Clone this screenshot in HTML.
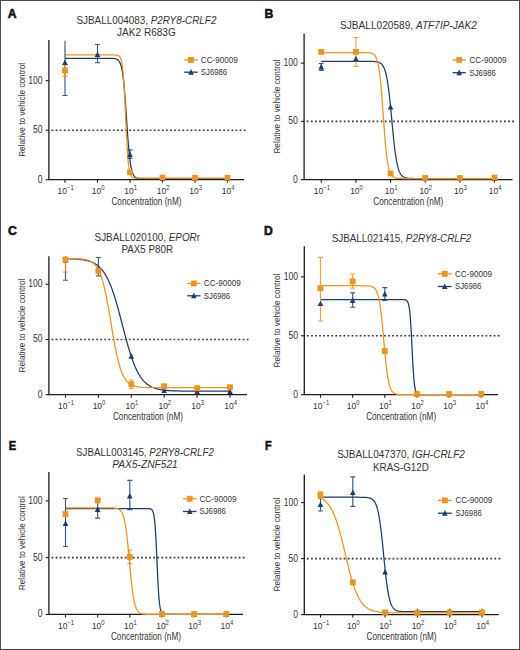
<!DOCTYPE html>
<html><head><meta charset="utf-8"><style>
html,body{margin:0;padding:0;background:#fff;}
svg{display:block;font-family:"Liberation Sans", sans-serif;}
</style></head><body>
<svg width="520" height="650" viewBox="0 0 520 650">
<rect x="0" y="0" width="520" height="650" fill="#fff"/>
<rect x="0.5" y="0.5" width="519" height="649" fill="none" stroke="#4a4a4a" stroke-width="1"/>
<g><text x="7.8" y="17.5" font-size="12.2" font-weight="bold" fill="#111" stroke="#111" stroke-width="0.55">A</text>
<text x="146.4" y="23.8" font-size="11" fill="#333" text-anchor="middle" textLength="140" lengthAdjust="spacingAndGlyphs"><tspan>SJBALL004083, </tspan><tspan font-style="italic">P2RY8-CRLF2</tspan></text>
<text x="146.4" y="36.1" font-size="11" fill="#333" text-anchor="middle" textLength="58.6" lengthAdjust="spacingAndGlyphs"><tspan>JAK2 R683G</tspan></text>
<path d="M48.9,40 V179.7 H244" stroke="#1c1c1c" stroke-width="1.3" fill="none"/>
<line x1="45.6" y1="179.7" x2="48.9" y2="179.7" stroke="#1c1c1c" stroke-width="1.1"/>
<text x="42.6" y="182.7" font-size="10" fill="#333" text-anchor="end" transform="translate(42.6,0) scale(0.86,1) translate(-42.6,0)">0</text>
<line x1="45.6" y1="130.2" x2="48.9" y2="130.2" stroke="#1c1c1c" stroke-width="1.1"/>
<text x="42.6" y="133.2" font-size="10" fill="#333" text-anchor="end" transform="translate(42.6,0) scale(0.86,1) translate(-42.6,0)">50</text>
<line x1="45.6" y1="80.7" x2="48.9" y2="80.7" stroke="#1c1c1c" stroke-width="1.1"/>
<text x="42.6" y="83.7" font-size="10" fill="#333" text-anchor="end" transform="translate(42.6,0) scale(0.86,1) translate(-42.6,0)">100</text>
<line x1="65" y1="179.7" x2="65" y2="182.7" stroke="#1c1c1c" stroke-width="1.1"/>
<text x="65.6" y="194.3" font-size="9.4" fill="#333" text-anchor="middle" transform="translate(65.6,0) scale(0.9,1) translate(-65.6,0)">10<tspan font-size="6.6" dy="-3.9">−1</tspan></text>
<line x1="97.5" y1="179.7" x2="97.5" y2="182.7" stroke="#1c1c1c" stroke-width="1.1"/>
<text x="98.1" y="194.3" font-size="9.4" fill="#333" text-anchor="middle" transform="translate(98.1,0) scale(0.9,1) translate(-98.1,0)">10<tspan font-size="6.6" dy="-3.9">0</tspan></text>
<line x1="130" y1="179.7" x2="130" y2="182.7" stroke="#1c1c1c" stroke-width="1.1"/>
<text x="130.6" y="194.3" font-size="9.4" fill="#333" text-anchor="middle" transform="translate(130.6,0) scale(0.9,1) translate(-130.6,0)">10<tspan font-size="6.6" dy="-3.9">1</tspan></text>
<line x1="162.5" y1="179.7" x2="162.5" y2="182.7" stroke="#1c1c1c" stroke-width="1.1"/>
<text x="163.1" y="194.3" font-size="9.4" fill="#333" text-anchor="middle" transform="translate(163.1,0) scale(0.9,1) translate(-163.1,0)">10<tspan font-size="6.6" dy="-3.9">2</tspan></text>
<line x1="195" y1="179.7" x2="195" y2="182.7" stroke="#1c1c1c" stroke-width="1.1"/>
<text x="195.6" y="194.3" font-size="9.4" fill="#333" text-anchor="middle" transform="translate(195.6,0) scale(0.9,1) translate(-195.6,0)">10<tspan font-size="6.6" dy="-3.9">3</tspan></text>
<line x1="227.5" y1="179.7" x2="227.5" y2="182.7" stroke="#1c1c1c" stroke-width="1.1"/>
<text x="228.1" y="194.3" font-size="9.4" fill="#333" text-anchor="middle" transform="translate(228.1,0) scale(0.9,1) translate(-228.1,0)">10<tspan font-size="6.6" dy="-3.9">4</tspan></text>
<text x="146.45" y="205.3" font-size="10.4" fill="#333" text-anchor="middle" textLength="70" lengthAdjust="spacingAndGlyphs">Concentration (nM)</text>
<text x="0" y="0" transform="translate(24.5,109.85) rotate(-90)" font-size="9.7" fill="#333" text-anchor="middle" textLength="94" lengthAdjust="spacingAndGlyphs">Relative to vehicle control</text>
<path d="M51.55,130.2 h1.8 M55.64,130.2 h1.8 M59.73,130.2 h1.8 M63.81,130.2 h1.8 M67.9,130.2 h1.8 M71.99,130.2 h1.8 M76.08,130.2 h1.8 M80.17,130.2 h1.8 M84.26,130.2 h1.8 M88.34,130.2 h1.8 M92.43,130.2 h1.8 M96.52,130.2 h1.8 M100.61,130.2 h1.8 M104.7,130.2 h1.8 M108.79,130.2 h1.8 M112.87,130.2 h1.8 M116.96,130.2 h1.8 M121.05,130.2 h1.8 M125.14,130.2 h1.8 M129.23,130.2 h1.8 M133.32,130.2 h1.8 M137.4,130.2 h1.8 M141.49,130.2 h1.8 M145.58,130.2 h1.8 M149.67,130.2 h1.8 M153.76,130.2 h1.8 M157.85,130.2 h1.8 M161.93,130.2 h1.8 M166.02,130.2 h1.8 M170.11,130.2 h1.8 M174.2,130.2 h1.8 M178.29,130.2 h1.8 M182.38,130.2 h1.8 M186.46,130.2 h1.8 M190.55,130.2 h1.8 M194.64,130.2 h1.8 M198.73,130.2 h1.8 M202.82,130.2 h1.8 M206.91,130.2 h1.8 M210.99,130.2 h1.8 M215.08,130.2 h1.8 M219.17,130.2 h1.8 M223.26,130.2 h1.8 M227.35,130.2 h1.8 M231.44,130.2 h1.8 M235.52,130.2 h1.8 M239.61,130.2 h1.8 M243.7,130.2 h1.8" stroke="#3a3a3a" stroke-width="1.6" fill="none"/>
<path d="M65,58.33 L65.33,58.33 L65.65,58.33 L65.97,58.33 L66.3,58.33 L66.62,58.33 L66.95,58.33 L67.28,58.33 L67.6,58.33 L67.92,58.33 L68.25,58.33 L68.58,58.33 L68.9,58.33 L69.22,58.33 L69.55,58.33 L69.88,58.33 L70.2,58.33 L70.53,58.33 L70.85,58.33 L71.17,58.33 L71.5,58.33 L71.83,58.33 L72.15,58.33 L72.47,58.33 L72.8,58.33 L73.12,58.33 L73.45,58.33 L73.78,58.33 L74.1,58.33 L74.42,58.33 L74.75,58.33 L75.08,58.33 L75.4,58.33 L75.72,58.33 L76.05,58.33 L76.38,58.33 L76.7,58.33 L77.03,58.33 L77.35,58.33 L77.67,58.33 L78,58.33 L78.33,58.33 L78.65,58.33 L78.97,58.33 L79.3,58.33 L79.62,58.33 L79.95,58.33 L80.28,58.33 L80.6,58.33 L80.92,58.33 L81.25,58.33 L81.58,58.33 L81.9,58.33 L82.22,58.33 L82.55,58.33 L82.88,58.33 L83.2,58.33 L83.53,58.33 L83.85,58.33 L84.17,58.33 L84.5,58.33 L84.83,58.33 L85.15,58.33 L85.47,58.33 L85.8,58.33 L86.12,58.33 L86.45,58.33 L86.78,58.33 L87.1,58.33 L87.42,58.33 L87.75,58.33 L88.08,58.33 L88.4,58.33 L88.72,58.33 L89.05,58.33 L89.38,58.33 L89.7,58.33 L90.03,58.33 L90.35,58.33 L90.67,58.33 L91,58.33 L91.33,58.33 L91.65,58.33 L91.97,58.33 L92.3,58.33 L92.62,58.33 L92.95,58.33 L93.28,58.33 L93.6,58.33 L93.92,58.33 L94.25,58.33 L94.58,58.33 L94.9,58.33 L95.22,58.33 L95.55,58.33 L95.88,58.33 L96.2,58.33 L96.53,58.33 L96.85,58.33 L97.17,58.33 L97.5,58.33 L97.83,58.33 L98.15,58.33 L98.47,58.33 L98.8,58.33 L99.12,58.33 L99.45,58.33 L99.78,58.33 L100.1,58.33 L100.43,58.33 L100.75,58.33 L101.08,58.33 L101.4,58.33 L101.72,58.33 L102.05,58.33 L102.38,58.33 L102.7,58.33 L103.03,58.33 L103.35,58.33 L103.67,58.33 L104,58.33 L104.32,58.33 L104.65,58.33 L104.97,58.33 L105.3,58.33 L105.62,58.33 L105.95,58.33 L106.28,58.33 L106.6,58.33 L106.93,58.33 L107.25,58.33 L107.58,58.34 L107.9,58.34 L108.22,58.34 L108.55,58.34 L108.88,58.35 L109.2,58.35 L109.53,58.35 L109.85,58.36 L110.17,58.36 L110.5,58.37 L110.82,58.38 L111.15,58.38 L111.47,58.4 L111.8,58.41 L112.12,58.42 L112.45,58.44 L112.78,58.46 L113.1,58.48 L113.42,58.51 L113.75,58.54 L114.08,58.58 L114.4,58.62 L114.72,58.67 L115.05,58.73 L115.38,58.8 L115.7,58.89 L116.03,58.98 L116.35,59.1 L116.68,59.23 L117,59.39 L117.33,59.57 L117.65,59.79 L117.97,60.04 L118.3,60.33 L118.62,60.68 L118.95,61.08 L119.28,61.55 L119.6,62.09 L119.92,62.73 L120.25,63.46 L120.57,64.32 L120.9,65.3 L121.22,66.44 L121.55,67.75 L121.88,69.25 L122.2,70.96 L122.53,72.9 L122.85,75.09 L123.18,77.56 L123.5,80.31 L123.83,83.35 L124.15,86.7 L124.47,90.34 L124.8,94.27 L125.12,98.46 L125.45,102.88 L125.78,107.49 L126.1,112.23 L126.42,117.06 L126.75,121.91 L127.07,126.71 L127.4,131.41 L127.72,135.95 L128.05,140.29 L128.38,144.37 L128.7,148.19 L129.03,151.71 L129.35,154.94 L129.68,157.87 L130,160.5 L130.32,162.85 L130.65,164.94 L130.97,166.79 L131.3,168.41 L131.62,169.83 L131.95,171.07 L132.27,172.15 L132.6,173.08 L132.93,173.88 L133.25,174.58 L133.57,175.17 L133.9,175.69 L134.22,176.13 L134.55,176.5 L134.88,176.83 L135.2,177.1 L135.52,177.34 L135.85,177.54 L136.18,177.71 L136.5,177.86 L136.82,177.99 L137.15,178.09 L137.47,178.19 L137.8,178.26 L138.12,178.33 L138.45,178.39 L138.78,178.43 L139.1,178.48 L139.43,178.51 L139.75,178.54 L140.07,178.57 L140.4,178.59 L140.73,178.6 L141.05,178.62 L141.38,178.63 L141.7,178.65 L142.03,178.65 L142.35,178.66 L142.68,178.67 L143,178.68 L143.32,178.68 L143.65,178.69 L143.98,178.69 L144.3,178.69 L144.62,178.69 L144.95,178.7 L145.28,178.7 L145.6,178.7 L145.93,178.7 L146.25,178.7 L146.57,178.7 L146.9,178.71 L147.22,178.71 L147.55,178.71 L147.88,178.71 L148.2,178.71 L148.52,178.71 L148.85,178.71 L149.18,178.71 L149.5,178.71 L149.82,178.71 L150.15,178.71 L150.47,178.71 L150.8,178.71 L151.12,178.71 L151.45,178.71 L151.77,178.71 L152.1,178.71 L152.43,178.71 L152.75,178.71 L153.07,178.71 L153.4,178.71 L153.72,178.71 L154.05,178.71 L154.38,178.71 L154.7,178.71 L155.03,178.71 L155.35,178.71 L155.68,178.71 L156,178.71 L156.32,178.71 L156.65,178.71 L156.98,178.71 L157.3,178.71 L157.62,178.71 L157.95,178.71 L158.28,178.71 L158.6,178.71 L158.93,178.71 L159.25,178.71 L159.57,178.71 L159.9,178.71 L160.23,178.71 L160.55,178.71 L160.88,178.71 L161.2,178.71 L161.53,178.71 L161.85,178.71 L162.18,178.71 L162.5,178.71 L162.82,178.71 L163.15,178.71 L163.47,178.71 L163.8,178.71 L164.12,178.71 L164.45,178.71 L164.77,178.71 L165.1,178.71 L165.43,178.71 L165.75,178.71 L166.07,178.71 L166.4,178.71 L166.72,178.71 L167.05,178.71 L167.38,178.71 L167.7,178.71 L168.02,178.71 L168.35,178.71 L168.68,178.71 L169,178.71 L169.32,178.71 L169.65,178.71 L169.97,178.71 L170.3,178.71 L170.62,178.71 L170.95,178.71 L171.28,178.71 L171.6,178.71 L171.93,178.71 L172.25,178.71 L172.57,178.71 L172.9,178.71 L173.23,178.71 L173.55,178.71 L173.88,178.71 L174.2,178.71 L174.53,178.71 L174.85,178.71 L175.18,178.71 L175.5,178.71 L175.82,178.71 L176.15,178.71 L176.48,178.71 L176.8,178.71 L177.12,178.71 L177.45,178.71 L177.78,178.71 L178.1,178.71 L178.43,178.71 L178.75,178.71 L179.07,178.71 L179.4,178.71 L179.72,178.71 L180.05,178.71 L180.38,178.71 L180.7,178.71 L181.02,178.71 L181.35,178.71 L181.68,178.71 L182,178.71 L182.32,178.71 L182.65,178.71 L182.97,178.71 L183.3,178.71 L183.62,178.71 L183.95,178.71 L184.27,178.71 L184.6,178.71 L184.93,178.71 L185.25,178.71 L185.57,178.71 L185.9,178.71 L186.22,178.71 L186.55,178.71 L186.88,178.71 L187.2,178.71 L187.53,178.71 L187.85,178.71 L188.18,178.71 L188.5,178.71 L188.82,178.71 L189.15,178.71 L189.48,178.71 L189.8,178.71 L190.12,178.71 L190.45,178.71 L190.78,178.71 L191.1,178.71 L191.43,178.71 L191.75,178.71 L192.07,178.71 L192.4,178.71 L192.73,178.71 L193.05,178.71 L193.38,178.71 L193.7,178.71 L194.03,178.71 L194.35,178.71 L194.68,178.71 L195,178.71 L195.32,178.71 L195.65,178.71 L195.97,178.71 L196.3,178.71 L196.62,178.71 L196.95,178.71 L197.28,178.71 L197.6,178.71 L197.92,178.71 L198.25,178.71 L198.58,178.71 L198.9,178.71 L199.22,178.71 L199.55,178.71 L199.88,178.71 L200.2,178.71 L200.53,178.71 L200.85,178.71 L201.18,178.71 L201.5,178.71 L201.82,178.71 L202.15,178.71 L202.48,178.71 L202.8,178.71 L203.12,178.71 L203.45,178.71 L203.77,178.71 L204.1,178.71 L204.43,178.71 L204.75,178.71 L205.07,178.71 L205.4,178.71 L205.72,178.71 L206.05,178.71 L206.38,178.71 L206.7,178.71 L207.03,178.71 L207.35,178.71 L207.67,178.71 L208,178.71 L208.33,178.71 L208.65,178.71 L208.97,178.71 L209.3,178.71 L209.62,178.71 L209.95,178.71 L210.28,178.71 L210.6,178.71 L210.93,178.71 L211.25,178.71 L211.57,178.71 L211.9,178.71 L212.22,178.71 L212.55,178.71 L212.88,178.71 L213.2,178.71 L213.53,178.71 L213.85,178.71 L214.17,178.71 L214.5,178.71 L214.83,178.71 L215.15,178.71 L215.47,178.71 L215.8,178.71 L216.12,178.71 L216.45,178.71 L216.78,178.71 L217.1,178.71 L217.43,178.71 L217.75,178.71 L218.07,178.71 L218.4,178.71 L218.73,178.71 L219.05,178.71 L219.38,178.71 L219.7,178.71 L220.02,178.71 L220.35,178.71 L220.68,178.71 L221,178.71 L221.32,178.71 L221.65,178.71 L221.97,178.71 L222.3,178.71 L222.62,178.71 L222.95,178.71 L223.28,178.71 L223.6,178.71 L223.92,178.71 L224.25,178.71 L224.58,178.71 L224.9,178.71 L225.22,178.71 L225.55,178.71 L225.88,178.71 L226.2,178.71 L226.53,178.71 L226.85,178.71 L227.18,178.71 L227.5,178.71" stroke="#1B3D6B" stroke-width="1.25" fill="none"/>
<path d="M65,54.96 L65.33,54.96 L65.65,54.96 L65.97,54.96 L66.3,54.96 L66.62,54.96 L66.95,54.96 L67.28,54.96 L67.6,54.96 L67.92,54.96 L68.25,54.96 L68.58,54.96 L68.9,54.96 L69.22,54.96 L69.55,54.96 L69.88,54.96 L70.2,54.96 L70.53,54.96 L70.85,54.96 L71.17,54.96 L71.5,54.96 L71.83,54.96 L72.15,54.96 L72.47,54.96 L72.8,54.96 L73.12,54.96 L73.45,54.96 L73.78,54.96 L74.1,54.96 L74.42,54.96 L74.75,54.96 L75.08,54.96 L75.4,54.96 L75.72,54.96 L76.05,54.96 L76.38,54.96 L76.7,54.96 L77.03,54.96 L77.35,54.96 L77.67,54.96 L78,54.96 L78.33,54.96 L78.65,54.96 L78.97,54.96 L79.3,54.96 L79.62,54.96 L79.95,54.96 L80.28,54.96 L80.6,54.96 L80.92,54.96 L81.25,54.96 L81.58,54.96 L81.9,54.96 L82.22,54.96 L82.55,54.96 L82.88,54.96 L83.2,54.96 L83.53,54.96 L83.85,54.96 L84.17,54.96 L84.5,54.96 L84.83,54.96 L85.15,54.96 L85.47,54.96 L85.8,54.96 L86.12,54.96 L86.45,54.96 L86.78,54.96 L87.1,54.96 L87.42,54.96 L87.75,54.96 L88.08,54.96 L88.4,54.96 L88.72,54.96 L89.05,54.96 L89.38,54.96 L89.7,54.96 L90.03,54.96 L90.35,54.96 L90.67,54.96 L91,54.96 L91.33,54.96 L91.65,54.96 L91.97,54.96 L92.3,54.96 L92.62,54.96 L92.95,54.96 L93.28,54.96 L93.6,54.96 L93.92,54.96 L94.25,54.96 L94.58,54.96 L94.9,54.96 L95.22,54.96 L95.55,54.96 L95.88,54.96 L96.2,54.96 L96.53,54.96 L96.85,54.96 L97.17,54.96 L97.5,54.96 L97.83,54.96 L98.15,54.96 L98.47,54.96 L98.8,54.96 L99.12,54.96 L99.45,54.96 L99.78,54.96 L100.1,54.96 L100.43,54.96 L100.75,54.96 L101.08,54.96 L101.4,54.96 L101.72,54.96 L102.05,54.96 L102.38,54.96 L102.7,54.96 L103.03,54.96 L103.35,54.96 L103.67,54.96 L104,54.96 L104.32,54.96 L104.65,54.96 L104.97,54.96 L105.3,54.96 L105.62,54.96 L105.95,54.96 L106.28,54.96 L106.6,54.96 L106.93,54.96 L107.25,54.96 L107.58,54.96 L107.9,54.96 L108.22,54.96 L108.55,54.96 L108.88,54.96 L109.2,54.96 L109.53,54.96 L109.85,54.96 L110.17,54.96 L110.5,54.96 L110.82,54.96 L111.15,54.96 L111.47,54.97 L111.8,54.97 L112.12,54.97 L112.45,54.97 L112.78,54.97 L113.1,54.98 L113.42,54.98 L113.75,54.99 L114.08,54.99 L114.4,55 L114.72,55.02 L115.05,55.03 L115.38,55.05 L115.7,55.07 L116.03,55.1 L116.35,55.13 L116.68,55.18 L117,55.24 L117.33,55.31 L117.65,55.4 L117.97,55.51 L118.3,55.65 L118.62,55.83 L118.95,56.05 L119.28,56.33 L119.6,56.68 L119.92,57.11 L120.25,57.66 L120.57,58.34 L120.9,59.18 L121.22,60.23 L121.55,61.52 L121.88,63.11 L122.2,65.05 L122.53,67.39 L122.85,70.22 L123.18,73.57 L123.5,77.51 L123.83,82.06 L124.15,87.24 L124.47,93.02 L124.8,99.32 L125.12,106.05 L125.45,113.04 L125.78,120.13 L126.1,127.13 L126.42,133.85 L126.75,140.16 L127.07,145.94 L127.4,151.11 L127.72,155.67 L128.05,159.61 L128.38,162.96 L128.7,165.78 L129.03,168.13 L129.35,170.07 L129.68,171.65 L130,172.94 L130.32,173.99 L130.65,174.84 L130.97,175.52 L131.3,176.06 L131.62,176.5 L131.95,176.85 L132.27,177.13 L132.6,177.35 L132.93,177.53 L133.25,177.67 L133.57,177.78 L133.9,177.87 L134.22,177.94 L134.55,178 L134.88,178.04 L135.2,178.08 L135.52,178.11 L135.85,178.13 L136.18,178.15 L136.5,178.16 L136.82,178.17 L137.15,178.18 L137.47,178.19 L137.8,178.19 L138.12,178.2 L138.45,178.2 L138.78,178.2 L139.1,178.21 L139.43,178.21 L139.75,178.21 L140.07,178.21 L140.4,178.21 L140.73,178.21 L141.05,178.21 L141.38,178.21 L141.7,178.21 L142.03,178.21 L142.35,178.21 L142.68,178.21 L143,178.21 L143.32,178.21 L143.65,178.21 L143.98,178.21 L144.3,178.21 L144.62,178.21 L144.95,178.21 L145.28,178.21 L145.6,178.21 L145.93,178.21 L146.25,178.21 L146.57,178.21 L146.9,178.21 L147.22,178.21 L147.55,178.21 L147.88,178.21 L148.2,178.21 L148.52,178.21 L148.85,178.21 L149.18,178.21 L149.5,178.21 L149.82,178.21 L150.15,178.21 L150.47,178.21 L150.8,178.21 L151.12,178.21 L151.45,178.21 L151.77,178.21 L152.1,178.21 L152.43,178.21 L152.75,178.21 L153.07,178.21 L153.4,178.21 L153.72,178.21 L154.05,178.21 L154.38,178.21 L154.7,178.21 L155.03,178.21 L155.35,178.21 L155.68,178.21 L156,178.21 L156.32,178.21 L156.65,178.21 L156.98,178.21 L157.3,178.21 L157.62,178.21 L157.95,178.21 L158.28,178.21 L158.6,178.21 L158.93,178.21 L159.25,178.21 L159.57,178.21 L159.9,178.21 L160.23,178.21 L160.55,178.21 L160.88,178.21 L161.2,178.21 L161.53,178.21 L161.85,178.21 L162.18,178.21 L162.5,178.21 L162.82,178.21 L163.15,178.21 L163.47,178.21 L163.8,178.21 L164.12,178.21 L164.45,178.21 L164.77,178.21 L165.1,178.21 L165.43,178.21 L165.75,178.21 L166.07,178.21 L166.4,178.21 L166.72,178.21 L167.05,178.21 L167.38,178.21 L167.7,178.21 L168.02,178.21 L168.35,178.21 L168.68,178.21 L169,178.21 L169.32,178.21 L169.65,178.21 L169.97,178.21 L170.3,178.21 L170.62,178.21 L170.95,178.21 L171.28,178.21 L171.6,178.21 L171.93,178.21 L172.25,178.21 L172.57,178.21 L172.9,178.21 L173.23,178.21 L173.55,178.21 L173.88,178.21 L174.2,178.21 L174.53,178.21 L174.85,178.21 L175.18,178.21 L175.5,178.21 L175.82,178.21 L176.15,178.21 L176.48,178.21 L176.8,178.21 L177.12,178.21 L177.45,178.21 L177.78,178.21 L178.1,178.21 L178.43,178.21 L178.75,178.21 L179.07,178.21 L179.4,178.21 L179.72,178.21 L180.05,178.21 L180.38,178.21 L180.7,178.21 L181.02,178.21 L181.35,178.21 L181.68,178.21 L182,178.21 L182.32,178.21 L182.65,178.21 L182.97,178.21 L183.3,178.21 L183.62,178.21 L183.95,178.21 L184.27,178.21 L184.6,178.21 L184.93,178.21 L185.25,178.21 L185.57,178.21 L185.9,178.21 L186.22,178.21 L186.55,178.21 L186.88,178.21 L187.2,178.21 L187.53,178.21 L187.85,178.21 L188.18,178.21 L188.5,178.21 L188.82,178.21 L189.15,178.21 L189.48,178.21 L189.8,178.21 L190.12,178.21 L190.45,178.21 L190.78,178.21 L191.1,178.21 L191.43,178.21 L191.75,178.21 L192.07,178.21 L192.4,178.21 L192.73,178.21 L193.05,178.21 L193.38,178.21 L193.7,178.21 L194.03,178.21 L194.35,178.21 L194.68,178.21 L195,178.21 L195.32,178.21 L195.65,178.21 L195.97,178.21 L196.3,178.21 L196.62,178.21 L196.95,178.21 L197.28,178.21 L197.6,178.21 L197.92,178.21 L198.25,178.21 L198.58,178.21 L198.9,178.21 L199.22,178.21 L199.55,178.21 L199.88,178.21 L200.2,178.21 L200.53,178.21 L200.85,178.21 L201.18,178.21 L201.5,178.21 L201.82,178.21 L202.15,178.21 L202.48,178.21 L202.8,178.21 L203.12,178.21 L203.45,178.21 L203.77,178.21 L204.1,178.21 L204.43,178.21 L204.75,178.21 L205.07,178.21 L205.4,178.21 L205.72,178.21 L206.05,178.21 L206.38,178.21 L206.7,178.21 L207.03,178.21 L207.35,178.21 L207.67,178.21 L208,178.21 L208.33,178.21 L208.65,178.21 L208.97,178.21 L209.3,178.21 L209.62,178.21 L209.95,178.21 L210.28,178.21 L210.6,178.21 L210.93,178.21 L211.25,178.21 L211.57,178.21 L211.9,178.21 L212.22,178.21 L212.55,178.21 L212.88,178.21 L213.2,178.21 L213.53,178.21 L213.85,178.21 L214.17,178.21 L214.5,178.21 L214.83,178.21 L215.15,178.21 L215.47,178.21 L215.8,178.21 L216.12,178.21 L216.45,178.21 L216.78,178.21 L217.1,178.21 L217.43,178.21 L217.75,178.21 L218.07,178.21 L218.4,178.21 L218.73,178.21 L219.05,178.21 L219.38,178.21 L219.7,178.21 L220.02,178.21 L220.35,178.21 L220.68,178.21 L221,178.21 L221.32,178.21 L221.65,178.21 L221.97,178.21 L222.3,178.21 L222.62,178.21 L222.95,178.21 L223.28,178.21 L223.6,178.21 L223.92,178.21 L224.25,178.21 L224.58,178.21 L224.9,178.21 L225.22,178.21 L225.55,178.21 L225.88,178.21 L226.2,178.21 L226.53,178.21 L226.85,178.21 L227.18,178.21 L227.5,178.21" stroke="#F1921A" stroke-width="1.25" fill="none"/>
<path d="M65,40.8 V95.5 M62.5,95.5 H67.5" stroke="#1B3D6B" stroke-width="1.15" stroke-opacity="0.85" fill="none"/>
<path d="M97.5,44.5 V62.7 M95,44.5 H100 M95,62.7 H100" stroke="#1B3D6B" stroke-width="1.15" stroke-opacity="0.85" fill="none"/>
<path d="M130,149.8 V158.4 M127.5,149.8 H132.5 M127.5,158.4 H132.5" stroke="#1B3D6B" stroke-width="1.15" stroke-opacity="0.85" fill="none"/>
<path d="M65,64.6 V76.3 M62.5,64.6 H67.5 M62.5,76.3 H67.5" stroke="#F1921A" stroke-width="1.15" stroke-opacity="0.85" fill="none"/>
<path d="M65,59.42 L67.8,65.02 L62.2,65.02 Z" fill="#1B3D6B"/>
<path d="M130,151.32 L132.8,156.92 L127.2,156.92 Z" fill="#1B3D6B"/>
<path d="M162.5,175.42 L165.3,181.02 L159.7,181.02 Z" fill="#1B3D6B"/>
<path d="M195,175.42 L197.8,181.02 L192.2,181.02 Z" fill="#1B3D6B"/>
<path d="M227.5,175.42 L230.3,181.02 L224.7,181.02 Z" fill="#1B3D6B"/>
<rect x="62.1" y="67.6" width="5.8" height="5.8" fill="#F1921A"/>
<rect x="127.1" y="169.4" width="5.8" height="5.8" fill="#F1921A"/>
<rect x="159.6" y="174.6" width="5.8" height="5.8" fill="#F1921A"/>
<rect x="192.1" y="174.9" width="5.8" height="5.8" fill="#F1921A"/>
<rect x="224.6" y="174.9" width="5.8" height="5.8" fill="#F1921A"/>
<path d="M97.5,51.42 L100.3,57.02 L94.7,57.02 Z" fill="#1B3D6B"/>
<line x1="184.2" y1="59.9" x2="197.7" y2="59.9" stroke="#F1921A" stroke-width="1.3"/>
<rect x="188.05" y="57" width="5.8" height="5.8" fill="#F1921A"/>
<text x="200.8" y="62.8" font-size="8.4" fill="#333" textLength="37" lengthAdjust="spacingAndGlyphs">CC-90009</text>
<line x1="184.2" y1="72.2" x2="197.7" y2="72.2" stroke="#1B3D6B" stroke-width="1.3"/>
<path d="M190.95,69.12 L193.75,74.72 L188.15,74.72 Z" fill="#1B3D6B"/>
<text x="200.8" y="75.1" font-size="8.4" fill="#333" textLength="26.4" lengthAdjust="spacingAndGlyphs">SJ6986</text></g>
<g><text x="264.4" y="17.5" font-size="12.2" font-weight="bold" fill="#111" stroke="#111" stroke-width="0.55">B</text>
<text x="408.5" y="29" font-size="11" fill="#333" text-anchor="middle" textLength="137" lengthAdjust="spacingAndGlyphs"><tspan>SJBALL020589, </tspan><tspan font-style="italic">ATF7IP-JAK2</tspan></text>
<path d="M304.1,33.5 V179.7 H512.5" stroke="#1c1c1c" stroke-width="1.3" fill="none"/>
<line x1="300.8" y1="179.7" x2="304.1" y2="179.7" stroke="#1c1c1c" stroke-width="1.1"/>
<text x="297.8" y="182.7" font-size="10" fill="#333" text-anchor="end" transform="translate(297.8,0) scale(0.86,1) translate(-297.8,0)">0</text>
<line x1="300.8" y1="121.4" x2="304.1" y2="121.4" stroke="#1c1c1c" stroke-width="1.1"/>
<text x="297.8" y="124.4" font-size="10" fill="#333" text-anchor="end" transform="translate(297.8,0) scale(0.86,1) translate(-297.8,0)">50</text>
<line x1="300.8" y1="63.1" x2="304.1" y2="63.1" stroke="#1c1c1c" stroke-width="1.1"/>
<text x="297.8" y="66.1" font-size="10" fill="#333" text-anchor="end" transform="translate(297.8,0) scale(0.86,1) translate(-297.8,0)">100</text>
<line x1="321.25" y1="179.7" x2="321.25" y2="182.7" stroke="#1c1c1c" stroke-width="1.1"/>
<text x="321.85" y="194.3" font-size="9.4" fill="#333" text-anchor="middle" transform="translate(321.85,0) scale(0.9,1) translate(-321.85,0)">10<tspan font-size="6.6" dy="-3.9">−1</tspan></text>
<line x1="355.9" y1="179.7" x2="355.9" y2="182.7" stroke="#1c1c1c" stroke-width="1.1"/>
<text x="356.5" y="194.3" font-size="9.4" fill="#333" text-anchor="middle" transform="translate(356.5,0) scale(0.9,1) translate(-356.5,0)">10<tspan font-size="6.6" dy="-3.9">0</tspan></text>
<line x1="390.55" y1="179.7" x2="390.55" y2="182.7" stroke="#1c1c1c" stroke-width="1.1"/>
<text x="391.15" y="194.3" font-size="9.4" fill="#333" text-anchor="middle" transform="translate(391.15,0) scale(0.9,1) translate(-391.15,0)">10<tspan font-size="6.6" dy="-3.9">1</tspan></text>
<line x1="425.2" y1="179.7" x2="425.2" y2="182.7" stroke="#1c1c1c" stroke-width="1.1"/>
<text x="425.8" y="194.3" font-size="9.4" fill="#333" text-anchor="middle" transform="translate(425.8,0) scale(0.9,1) translate(-425.8,0)">10<tspan font-size="6.6" dy="-3.9">2</tspan></text>
<line x1="459.85" y1="179.7" x2="459.85" y2="182.7" stroke="#1c1c1c" stroke-width="1.1"/>
<text x="460.45" y="194.3" font-size="9.4" fill="#333" text-anchor="middle" transform="translate(460.45,0) scale(0.9,1) translate(-460.45,0)">10<tspan font-size="6.6" dy="-3.9">3</tspan></text>
<line x1="494.5" y1="179.7" x2="494.5" y2="182.7" stroke="#1c1c1c" stroke-width="1.1"/>
<text x="495.1" y="194.3" font-size="9.4" fill="#333" text-anchor="middle" transform="translate(495.1,0) scale(0.9,1) translate(-495.1,0)">10<tspan font-size="6.6" dy="-3.9">4</tspan></text>
<text x="408.3" y="205.3" font-size="10.4" fill="#333" text-anchor="middle" textLength="70" lengthAdjust="spacingAndGlyphs">Concentration (nM)</text>
<text x="0" y="0" transform="translate(279.7,106.6) rotate(-90)" font-size="9.7" fill="#333" text-anchor="middle" textLength="94" lengthAdjust="spacingAndGlyphs">Relative to vehicle control</text>
<path d="M306.75,121.4 h1.8 M310.86,121.4 h1.8 M314.97,121.4 h1.8 M319.08,121.4 h1.8 M323.19,121.4 h1.8 M327.3,121.4 h1.8 M331.4,121.4 h1.8 M335.51,121.4 h1.8 M339.62,121.4 h1.8 M343.73,121.4 h1.8 M347.84,121.4 h1.8 M351.95,121.4 h1.8 M356.06,121.4 h1.8 M360.17,121.4 h1.8 M364.28,121.4 h1.8 M368.39,121.4 h1.8 M372.49,121.4 h1.8 M376.6,121.4 h1.8 M380.71,121.4 h1.8 M384.82,121.4 h1.8 M388.93,121.4 h1.8 M393.04,121.4 h1.8 M397.15,121.4 h1.8 M401.26,121.4 h1.8 M405.37,121.4 h1.8 M409.48,121.4 h1.8 M413.58,121.4 h1.8 M417.69,121.4 h1.8 M421.8,121.4 h1.8 M425.91,121.4 h1.8 M430.02,121.4 h1.8 M434.13,121.4 h1.8 M438.24,121.4 h1.8 M442.35,121.4 h1.8 M446.46,121.4 h1.8 M450.57,121.4 h1.8 M454.67,121.4 h1.8 M458.78,121.4 h1.8 M462.89,121.4 h1.8 M467,121.4 h1.8 M471.11,121.4 h1.8 M475.22,121.4 h1.8 M479.33,121.4 h1.8 M483.44,121.4 h1.8 M487.55,121.4 h1.8 M491.66,121.4 h1.8 M495.76,121.4 h1.8 M499.87,121.4 h1.8 M503.98,121.4 h1.8 M508.09,121.4 h1.8 M512.2,121.4 h1.8" stroke="#3a3a3a" stroke-width="1.6" fill="none"/>
<path d="M321.25,61.35 L321.6,61.35 L321.94,61.35 L322.29,61.35 L322.64,61.35 L322.98,61.35 L323.33,61.35 L323.68,61.35 L324.02,61.35 L324.37,61.35 L324.71,61.35 L325.06,61.35 L325.41,61.35 L325.75,61.35 L326.1,61.35 L326.45,61.35 L326.79,61.35 L327.14,61.35 L327.49,61.35 L327.83,61.35 L328.18,61.35 L328.53,61.35 L328.87,61.35 L329.22,61.35 L329.57,61.35 L329.91,61.35 L330.26,61.35 L330.61,61.35 L330.95,61.35 L331.3,61.35 L331.64,61.35 L331.99,61.35 L332.34,61.35 L332.68,61.35 L333.03,61.35 L333.38,61.35 L333.72,61.35 L334.07,61.35 L334.42,61.35 L334.76,61.35 L335.11,61.35 L335.46,61.35 L335.8,61.35 L336.15,61.35 L336.5,61.35 L336.84,61.35 L337.19,61.35 L337.54,61.35 L337.88,61.35 L338.23,61.35 L338.57,61.35 L338.92,61.35 L339.27,61.35 L339.61,61.35 L339.96,61.35 L340.31,61.35 L340.65,61.35 L341,61.35 L341.35,61.35 L341.69,61.35 L342.04,61.35 L342.39,61.35 L342.73,61.35 L343.08,61.35 L343.43,61.35 L343.77,61.35 L344.12,61.35 L344.47,61.35 L344.81,61.35 L345.16,61.35 L345.5,61.35 L345.85,61.35 L346.2,61.35 L346.54,61.35 L346.89,61.35 L347.24,61.35 L347.58,61.35 L347.93,61.35 L348.28,61.35 L348.62,61.35 L348.97,61.35 L349.32,61.35 L349.66,61.35 L350.01,61.35 L350.36,61.35 L350.7,61.35 L351.05,61.35 L351.4,61.35 L351.74,61.35 L352.09,61.35 L352.44,61.35 L352.78,61.35 L353.13,61.35 L353.47,61.35 L353.82,61.35 L354.17,61.35 L354.51,61.35 L354.86,61.35 L355.21,61.35 L355.55,61.35 L355.9,61.35 L356.25,61.35 L356.59,61.35 L356.94,61.35 L357.29,61.35 L357.63,61.35 L357.98,61.35 L358.33,61.35 L358.67,61.35 L359.02,61.35 L359.37,61.35 L359.71,61.35 L360.06,61.35 L360.4,61.35 L360.75,61.35 L361.1,61.35 L361.44,61.35 L361.79,61.35 L362.14,61.35 L362.48,61.35 L362.83,61.35 L363.18,61.35 L363.52,61.35 L363.87,61.36 L364.22,61.36 L364.56,61.36 L364.91,61.36 L365.26,61.36 L365.6,61.36 L365.95,61.36 L366.3,61.36 L366.64,61.36 L366.99,61.36 L367.33,61.37 L367.68,61.37 L368.03,61.37 L368.37,61.37 L368.72,61.38 L369.07,61.38 L369.41,61.38 L369.76,61.39 L370.11,61.39 L370.45,61.4 L370.8,61.41 L371.15,61.41 L371.49,61.42 L371.84,61.43 L372.19,61.44 L372.53,61.45 L372.88,61.47 L373.23,61.48 L373.57,61.5 L373.92,61.52 L374.26,61.54 L374.61,61.57 L374.96,61.6 L375.3,61.63 L375.65,61.67 L376,61.71 L376.34,61.76 L376.69,61.82 L377.04,61.88 L377.38,61.95 L377.73,62.03 L378.08,62.12 L378.42,62.23 L378.77,62.34 L379.12,62.48 L379.46,62.63 L379.81,62.8 L380.15,62.99 L380.5,63.21 L380.85,63.45 L381.19,63.73 L381.54,64.05 L381.89,64.4 L382.23,64.8 L382.58,65.25 L382.93,65.76 L383.27,66.33 L383.62,66.97 L383.97,67.69 L384.31,68.49 L384.66,69.39 L385.01,70.39 L385.35,71.5 L385.7,72.74 L386.05,74.11 L386.39,75.62 L386.74,77.29 L387.08,79.11 L387.43,81.11 L387.78,83.27 L388.12,85.62 L388.47,88.15 L388.82,90.86 L389.16,93.74 L389.51,96.79 L389.86,100 L390.2,103.34 L390.55,106.81 L390.9,110.38 L391.24,114.03 L391.59,117.72 L391.94,121.43 L392.28,125.12 L392.63,128.78 L392.98,132.37 L393.32,135.86 L393.67,139.23 L394.01,142.47 L394.36,145.55 L394.71,148.47 L395.05,151.21 L395.4,153.77 L395.75,156.16 L396.09,158.36 L396.44,160.39 L396.79,162.25 L397.13,163.94 L397.48,165.48 L397.83,166.88 L398.17,168.15 L398.52,169.28 L398.87,170.31 L399.21,171.22 L399.56,172.05 L399.91,172.78 L400.25,173.43 L400.6,174.02 L400.94,174.54 L401.29,175 L401.64,175.41 L401.98,175.77 L402.33,176.09 L402.68,176.38 L403.02,176.63 L403.37,176.85 L403.72,177.05 L404.06,177.22 L404.41,177.38 L404.76,177.52 L405.1,177.64 L405.45,177.74 L405.8,177.84 L406.14,177.92 L406.49,177.99 L406.84,178.06 L407.18,178.11 L407.53,178.16 L407.88,178.21 L408.22,178.25 L408.57,178.28 L408.91,178.31 L409.26,178.34 L409.61,178.36 L409.95,178.38 L410.3,178.4 L410.65,178.41 L410.99,178.43 L411.34,178.44 L411.69,178.45 L412.03,178.46 L412.38,178.47 L412.73,178.48 L413.07,178.48 L413.42,178.49 L413.77,178.5 L414.11,178.5 L414.46,178.5 L414.81,178.51 L415.15,178.51 L415.5,178.51 L415.84,178.52 L416.19,178.52 L416.54,178.52 L416.88,178.52 L417.23,178.52 L417.58,178.52 L417.92,178.53 L418.27,178.53 L418.62,178.53 L418.96,178.53 L419.31,178.53 L419.66,178.53 L420,178.53 L420.35,178.53 L420.7,178.53 L421.04,178.53 L421.39,178.53 L421.74,178.53 L422.08,178.53 L422.43,178.53 L422.77,178.53 L423.12,178.53 L423.47,178.53 L423.81,178.53 L424.16,178.53 L424.51,178.53 L424.85,178.53 L425.2,178.53 L425.55,178.53 L425.89,178.53 L426.24,178.53 L426.59,178.53 L426.93,178.53 L427.28,178.53 L427.63,178.53 L427.97,178.53 L428.32,178.53 L428.66,178.53 L429.01,178.53 L429.36,178.53 L429.7,178.53 L430.05,178.53 L430.4,178.53 L430.74,178.53 L431.09,178.53 L431.44,178.53 L431.78,178.53 L432.13,178.53 L432.48,178.53 L432.82,178.53 L433.17,178.53 L433.52,178.53 L433.86,178.53 L434.21,178.53 L434.56,178.53 L434.9,178.53 L435.25,178.53 L435.59,178.53 L435.94,178.53 L436.29,178.53 L436.63,178.53 L436.98,178.53 L437.33,178.53 L437.67,178.53 L438.02,178.53 L438.37,178.53 L438.71,178.53 L439.06,178.53 L439.41,178.53 L439.75,178.53 L440.1,178.53 L440.45,178.53 L440.79,178.53 L441.14,178.53 L441.49,178.53 L441.83,178.53 L442.18,178.53 L442.52,178.53 L442.87,178.53 L443.22,178.53 L443.56,178.53 L443.91,178.53 L444.26,178.53 L444.6,178.53 L444.95,178.53 L445.3,178.53 L445.64,178.53 L445.99,178.53 L446.34,178.53 L446.68,178.53 L447.03,178.53 L447.38,178.53 L447.72,178.53 L448.07,178.53 L448.42,178.53 L448.76,178.53 L449.11,178.53 L449.46,178.53 L449.8,178.53 L450.15,178.53 L450.49,178.53 L450.84,178.53 L451.19,178.53 L451.53,178.53 L451.88,178.53 L452.23,178.53 L452.57,178.53 L452.92,178.53 L453.27,178.53 L453.61,178.53 L453.96,178.53 L454.31,178.53 L454.65,178.53 L455,178.53 L455.35,178.53 L455.69,178.53 L456.04,178.53 L456.38,178.53 L456.73,178.53 L457.08,178.53 L457.42,178.53 L457.77,178.53 L458.12,178.53 L458.46,178.53 L458.81,178.53 L459.16,178.53 L459.5,178.53 L459.85,178.53 L460.2,178.53 L460.54,178.53 L460.89,178.53 L461.24,178.53 L461.58,178.53 L461.93,178.53 L462.28,178.53 L462.62,178.53 L462.97,178.53 L463.31,178.53 L463.66,178.53 L464.01,178.53 L464.35,178.53 L464.7,178.53 L465.05,178.53 L465.39,178.53 L465.74,178.53 L466.09,178.53 L466.43,178.53 L466.78,178.53 L467.13,178.53 L467.47,178.53 L467.82,178.53 L468.17,178.53 L468.51,178.53 L468.86,178.53 L469.21,178.53 L469.55,178.53 L469.9,178.53 L470.25,178.53 L470.59,178.53 L470.94,178.53 L471.28,178.53 L471.63,178.53 L471.98,178.53 L472.32,178.53 L472.67,178.53 L473.02,178.53 L473.36,178.53 L473.71,178.53 L474.06,178.53 L474.4,178.53 L474.75,178.53 L475.1,178.53 L475.44,178.53 L475.79,178.53 L476.14,178.53 L476.48,178.53 L476.83,178.53 L477.17,178.53 L477.52,178.53 L477.87,178.53 L478.21,178.53 L478.56,178.53 L478.91,178.53 L479.25,178.53 L479.6,178.53 L479.95,178.53 L480.29,178.53 L480.64,178.53 L480.99,178.53 L481.33,178.53 L481.68,178.53 L482.03,178.53 L482.37,178.53 L482.72,178.53 L483.07,178.53 L483.41,178.53 L483.76,178.53 L484.11,178.53 L484.45,178.53 L484.8,178.53 L485.14,178.53 L485.49,178.53 L485.84,178.53 L486.18,178.53 L486.53,178.53 L486.88,178.53 L487.22,178.53 L487.57,178.53 L487.92,178.53 L488.26,178.53 L488.61,178.53 L488.96,178.53 L489.3,178.53 L489.65,178.53 L490,178.53 L490.34,178.53 L490.69,178.53 L491.03,178.53 L491.38,178.53 L491.73,178.53 L492.07,178.53 L492.42,178.53 L492.77,178.53 L493.11,178.53 L493.46,178.53 L493.81,178.53 L494.15,178.53 L494.5,178.53" stroke="#1B3D6B" stroke-width="1.25" fill="none"/>
<path d="M321.25,52.61 L321.6,52.61 L321.94,52.61 L322.29,52.61 L322.64,52.61 L322.98,52.61 L323.33,52.61 L323.68,52.61 L324.02,52.61 L324.37,52.61 L324.71,52.61 L325.06,52.61 L325.41,52.61 L325.75,52.61 L326.1,52.61 L326.45,52.61 L326.79,52.61 L327.14,52.61 L327.49,52.61 L327.83,52.61 L328.18,52.61 L328.53,52.61 L328.87,52.61 L329.22,52.61 L329.57,52.61 L329.91,52.61 L330.26,52.61 L330.61,52.61 L330.95,52.61 L331.3,52.61 L331.64,52.61 L331.99,52.61 L332.34,52.61 L332.68,52.61 L333.03,52.61 L333.38,52.61 L333.72,52.61 L334.07,52.61 L334.42,52.61 L334.76,52.61 L335.11,52.61 L335.46,52.61 L335.8,52.61 L336.15,52.61 L336.5,52.61 L336.84,52.61 L337.19,52.61 L337.54,52.61 L337.88,52.61 L338.23,52.61 L338.57,52.61 L338.92,52.61 L339.27,52.61 L339.61,52.61 L339.96,52.61 L340.31,52.61 L340.65,52.61 L341,52.61 L341.35,52.61 L341.69,52.61 L342.04,52.61 L342.39,52.61 L342.73,52.61 L343.08,52.61 L343.43,52.61 L343.77,52.61 L344.12,52.61 L344.47,52.61 L344.81,52.61 L345.16,52.61 L345.5,52.61 L345.85,52.61 L346.2,52.61 L346.54,52.61 L346.89,52.61 L347.24,52.61 L347.58,52.61 L347.93,52.61 L348.28,52.61 L348.62,52.61 L348.97,52.61 L349.32,52.61 L349.66,52.61 L350.01,52.61 L350.36,52.61 L350.7,52.61 L351.05,52.61 L351.4,52.61 L351.74,52.61 L352.09,52.61 L352.44,52.61 L352.78,52.61 L353.13,52.61 L353.47,52.61 L353.82,52.61 L354.17,52.61 L354.51,52.61 L354.86,52.61 L355.21,52.61 L355.55,52.61 L355.9,52.61 L356.25,52.61 L356.59,52.61 L356.94,52.61 L357.29,52.61 L357.63,52.61 L357.98,52.61 L358.33,52.61 L358.67,52.61 L359.02,52.61 L359.37,52.61 L359.71,52.61 L360.06,52.61 L360.4,52.61 L360.75,52.61 L361.1,52.61 L361.44,52.61 L361.79,52.61 L362.14,52.62 L362.48,52.62 L362.83,52.62 L363.18,52.62 L363.52,52.63 L363.87,52.63 L364.22,52.63 L364.56,52.64 L364.91,52.64 L365.26,52.65 L365.6,52.65 L365.95,52.66 L366.3,52.67 L366.64,52.68 L366.99,52.7 L367.33,52.71 L367.68,52.73 L368.03,52.75 L368.37,52.77 L368.72,52.8 L369.07,52.83 L369.41,52.87 L369.76,52.91 L370.11,52.96 L370.45,53.02 L370.8,53.09 L371.15,53.17 L371.49,53.27 L371.84,53.38 L372.19,53.5 L372.53,53.65 L372.88,53.82 L373.23,54.03 L373.57,54.26 L373.92,54.53 L374.26,54.85 L374.61,55.21 L374.96,55.64 L375.3,56.13 L375.65,56.7 L376,57.35 L376.34,58.11 L376.69,58.98 L377.04,59.98 L377.38,61.13 L377.73,62.44 L378.08,63.93 L378.42,65.63 L378.77,67.54 L379.12,69.7 L379.46,72.11 L379.81,74.79 L380.15,77.75 L380.5,81 L380.85,84.53 L381.19,88.35 L381.54,92.42 L381.89,96.74 L382.23,101.25 L382.58,105.93 L382.93,110.72 L383.27,115.57 L383.62,120.42 L383.97,125.21 L384.31,129.89 L384.66,134.4 L385.01,138.72 L385.35,142.79 L385.7,146.61 L386.05,150.14 L386.39,153.39 L386.74,156.35 L387.08,159.03 L387.43,161.44 L387.78,163.6 L388.12,165.51 L388.47,167.21 L388.82,168.7 L389.16,170.01 L389.51,171.16 L389.86,172.16 L390.2,173.03 L390.55,173.79 L390.9,174.44 L391.24,175.01 L391.59,175.5 L391.94,175.93 L392.28,176.29 L392.63,176.61 L392.98,176.88 L393.32,177.11 L393.67,177.32 L394.01,177.49 L394.36,177.64 L394.71,177.76 L395.05,177.87 L395.4,177.97 L395.75,178.05 L396.09,178.12 L396.44,178.18 L396.79,178.23 L397.13,178.27 L397.48,178.31 L397.83,178.34 L398.17,178.37 L398.52,178.39 L398.87,178.41 L399.21,178.43 L399.56,178.44 L399.91,178.46 L400.25,178.47 L400.6,178.48 L400.94,178.49 L401.29,178.49 L401.64,178.5 L401.98,178.5 L402.33,178.51 L402.68,178.51 L403.02,178.51 L403.37,178.52 L403.72,178.52 L404.06,178.52 L404.41,178.52 L404.76,178.53 L405.1,178.53 L405.45,178.53 L405.8,178.53 L406.14,178.53 L406.49,178.53 L406.84,178.53 L407.18,178.53 L407.53,178.53 L407.88,178.53 L408.22,178.53 L408.57,178.53 L408.91,178.53 L409.26,178.53 L409.61,178.53 L409.95,178.53 L410.3,178.53 L410.65,178.53 L410.99,178.53 L411.34,178.53 L411.69,178.53 L412.03,178.53 L412.38,178.53 L412.73,178.53 L413.07,178.53 L413.42,178.53 L413.77,178.53 L414.11,178.53 L414.46,178.53 L414.81,178.53 L415.15,178.53 L415.5,178.53 L415.84,178.53 L416.19,178.53 L416.54,178.53 L416.88,178.53 L417.23,178.53 L417.58,178.53 L417.92,178.53 L418.27,178.53 L418.62,178.53 L418.96,178.53 L419.31,178.53 L419.66,178.53 L420,178.53 L420.35,178.53 L420.7,178.53 L421.04,178.53 L421.39,178.53 L421.74,178.53 L422.08,178.53 L422.43,178.53 L422.77,178.53 L423.12,178.53 L423.47,178.53 L423.81,178.53 L424.16,178.53 L424.51,178.53 L424.85,178.53 L425.2,178.53 L425.55,178.53 L425.89,178.53 L426.24,178.53 L426.59,178.53 L426.93,178.53 L427.28,178.53 L427.63,178.53 L427.97,178.53 L428.32,178.53 L428.66,178.53 L429.01,178.53 L429.36,178.53 L429.7,178.53 L430.05,178.53 L430.4,178.53 L430.74,178.53 L431.09,178.53 L431.44,178.53 L431.78,178.53 L432.13,178.53 L432.48,178.53 L432.82,178.53 L433.17,178.53 L433.52,178.53 L433.86,178.53 L434.21,178.53 L434.56,178.53 L434.9,178.53 L435.25,178.53 L435.59,178.53 L435.94,178.53 L436.29,178.53 L436.63,178.53 L436.98,178.53 L437.33,178.53 L437.67,178.53 L438.02,178.53 L438.37,178.53 L438.71,178.53 L439.06,178.53 L439.41,178.53 L439.75,178.53 L440.1,178.53 L440.45,178.53 L440.79,178.53 L441.14,178.53 L441.49,178.53 L441.83,178.53 L442.18,178.53 L442.52,178.53 L442.87,178.53 L443.22,178.53 L443.56,178.53 L443.91,178.53 L444.26,178.53 L444.6,178.53 L444.95,178.53 L445.3,178.53 L445.64,178.53 L445.99,178.53 L446.34,178.53 L446.68,178.53 L447.03,178.53 L447.38,178.53 L447.72,178.53 L448.07,178.53 L448.42,178.53 L448.76,178.53 L449.11,178.53 L449.46,178.53 L449.8,178.53 L450.15,178.53 L450.49,178.53 L450.84,178.53 L451.19,178.53 L451.53,178.53 L451.88,178.53 L452.23,178.53 L452.57,178.53 L452.92,178.53 L453.27,178.53 L453.61,178.53 L453.96,178.53 L454.31,178.53 L454.65,178.53 L455,178.53 L455.35,178.53 L455.69,178.53 L456.04,178.53 L456.38,178.53 L456.73,178.53 L457.08,178.53 L457.42,178.53 L457.77,178.53 L458.12,178.53 L458.46,178.53 L458.81,178.53 L459.16,178.53 L459.5,178.53 L459.85,178.53 L460.2,178.53 L460.54,178.53 L460.89,178.53 L461.24,178.53 L461.58,178.53 L461.93,178.53 L462.28,178.53 L462.62,178.53 L462.97,178.53 L463.31,178.53 L463.66,178.53 L464.01,178.53 L464.35,178.53 L464.7,178.53 L465.05,178.53 L465.39,178.53 L465.74,178.53 L466.09,178.53 L466.43,178.53 L466.78,178.53 L467.13,178.53 L467.47,178.53 L467.82,178.53 L468.17,178.53 L468.51,178.53 L468.86,178.53 L469.21,178.53 L469.55,178.53 L469.9,178.53 L470.25,178.53 L470.59,178.53 L470.94,178.53 L471.28,178.53 L471.63,178.53 L471.98,178.53 L472.32,178.53 L472.67,178.53 L473.02,178.53 L473.36,178.53 L473.71,178.53 L474.06,178.53 L474.4,178.53 L474.75,178.53 L475.1,178.53 L475.44,178.53 L475.79,178.53 L476.14,178.53 L476.48,178.53 L476.83,178.53 L477.17,178.53 L477.52,178.53 L477.87,178.53 L478.21,178.53 L478.56,178.53 L478.91,178.53 L479.25,178.53 L479.6,178.53 L479.95,178.53 L480.29,178.53 L480.64,178.53 L480.99,178.53 L481.33,178.53 L481.68,178.53 L482.03,178.53 L482.37,178.53 L482.72,178.53 L483.07,178.53 L483.41,178.53 L483.76,178.53 L484.11,178.53 L484.45,178.53 L484.8,178.53 L485.14,178.53 L485.49,178.53 L485.84,178.53 L486.18,178.53 L486.53,178.53 L486.88,178.53 L487.22,178.53 L487.57,178.53 L487.92,178.53 L488.26,178.53 L488.61,178.53 L488.96,178.53 L489.3,178.53 L489.65,178.53 L490,178.53 L490.34,178.53 L490.69,178.53 L491.03,178.53 L491.38,178.53 L491.73,178.53 L492.07,178.53 L492.42,178.53 L492.77,178.53 L493.11,178.53 L493.46,178.53 L493.81,178.53 L494.15,178.53 L494.5,178.53" stroke="#F1921A" stroke-width="1.25" fill="none"/>
<path d="M321.25,63.5 V70.4 M318.75,63.5 H323.75 M318.75,70.4 H323.75" stroke="#1B3D6B" stroke-width="1.15" stroke-opacity="0.85" fill="none"/>
<path d="M355.9,37.5 V66.3 M353.4,37.5 H358.4 M353.4,66.3 H358.4" stroke="#F1921A" stroke-width="1.15" stroke-opacity="0.85" fill="none"/>
<path d="M321.25,63.82 L324.05,69.42 L318.45,69.42 Z" fill="#1B3D6B"/>
<path d="M355.9,55.72 L358.7,61.32 L353.1,61.32 Z" fill="#1B3D6B"/>
<path d="M390.55,103.92 L393.35,109.52 L387.75,109.52 Z" fill="#1B3D6B"/>
<path d="M425.2,175.42 L428,181.02 L422.4,181.02 Z" fill="#1B3D6B"/>
<path d="M459.85,175.42 L462.65,181.02 L457.05,181.02 Z" fill="#1B3D6B"/>
<path d="M494.5,175.42 L497.3,181.02 L491.7,181.02 Z" fill="#1B3D6B"/>
<rect x="318.35" y="49" width="5.8" height="5.8" fill="#F1921A"/>
<rect x="353" y="49" width="5.8" height="5.8" fill="#F1921A"/>
<rect x="387.65" y="170.6" width="5.8" height="5.8" fill="#F1921A"/>
<rect x="422.3" y="175.1" width="5.8" height="5.8" fill="#F1921A"/>
<rect x="456.95" y="175.1" width="5.8" height="5.8" fill="#F1921A"/>
<rect x="491.6" y="174.6" width="5.8" height="5.8" fill="#F1921A"/>
<line x1="452.6" y1="59.9" x2="465.8" y2="59.9" stroke="#F1921A" stroke-width="1.3"/>
<rect x="456.3" y="57" width="5.8" height="5.8" fill="#F1921A"/>
<text x="469.5" y="62.8" font-size="8.4" fill="#333" textLength="37" lengthAdjust="spacingAndGlyphs">CC-90009</text>
<line x1="452.6" y1="72.7" x2="465.8" y2="72.7" stroke="#1B3D6B" stroke-width="1.3"/>
<path d="M459.2,69.62 L462,75.22 L456.4,75.22 Z" fill="#1B3D6B"/>
<text x="469.5" y="75.6" font-size="8.4" fill="#333" textLength="26.4" lengthAdjust="spacingAndGlyphs">SJ6986</text></g>
<g><text x="8" y="235" font-size="12.2" font-weight="bold" fill="#111" stroke="#111" stroke-width="0.55">C</text>
<text x="147.3" y="241.2" font-size="11" fill="#333" text-anchor="middle" textLength="105.5" lengthAdjust="spacingAndGlyphs"><tspan>SJBALL020100, </tspan><tspan font-style="italic">EPOR</tspan><tspan>r</tspan></text>
<text x="147.3" y="252.6" font-size="11" fill="#333" text-anchor="middle" textLength="51.7" lengthAdjust="spacingAndGlyphs"><tspan>PAX5 P80R</tspan></text>
<path d="M48.9,256.3 V394.7 H247" stroke="#1c1c1c" stroke-width="1.3" fill="none"/>
<line x1="45.6" y1="394.7" x2="48.9" y2="394.7" stroke="#1c1c1c" stroke-width="1.1"/>
<text x="42.6" y="397.7" font-size="10" fill="#333" text-anchor="end" transform="translate(42.6,0) scale(0.86,1) translate(-42.6,0)">0</text>
<line x1="45.6" y1="339.5" x2="48.9" y2="339.5" stroke="#1c1c1c" stroke-width="1.1"/>
<text x="42.6" y="342.5" font-size="10" fill="#333" text-anchor="end" transform="translate(42.6,0) scale(0.86,1) translate(-42.6,0)">50</text>
<line x1="45.6" y1="284.3" x2="48.9" y2="284.3" stroke="#1c1c1c" stroke-width="1.1"/>
<text x="42.6" y="287.3" font-size="10" fill="#333" text-anchor="end" transform="translate(42.6,0) scale(0.86,1) translate(-42.6,0)">100</text>
<line x1="65.5" y1="394.7" x2="65.5" y2="397.7" stroke="#1c1c1c" stroke-width="1.1"/>
<text x="66.1" y="409.3" font-size="9.4" fill="#333" text-anchor="middle" transform="translate(66.1,0) scale(0.9,1) translate(-66.1,0)">10<tspan font-size="6.6" dy="-3.9">−1</tspan></text>
<line x1="98.4" y1="394.7" x2="98.4" y2="397.7" stroke="#1c1c1c" stroke-width="1.1"/>
<text x="99" y="409.3" font-size="9.4" fill="#333" text-anchor="middle" transform="translate(99,0) scale(0.9,1) translate(-99,0)">10<tspan font-size="6.6" dy="-3.9">0</tspan></text>
<line x1="131.3" y1="394.7" x2="131.3" y2="397.7" stroke="#1c1c1c" stroke-width="1.1"/>
<text x="131.9" y="409.3" font-size="9.4" fill="#333" text-anchor="middle" transform="translate(131.9,0) scale(0.9,1) translate(-131.9,0)">10<tspan font-size="6.6" dy="-3.9">1</tspan></text>
<line x1="164.2" y1="394.7" x2="164.2" y2="397.7" stroke="#1c1c1c" stroke-width="1.1"/>
<text x="164.8" y="409.3" font-size="9.4" fill="#333" text-anchor="middle" transform="translate(164.8,0) scale(0.9,1) translate(-164.8,0)">10<tspan font-size="6.6" dy="-3.9">2</tspan></text>
<line x1="197.1" y1="394.7" x2="197.1" y2="397.7" stroke="#1c1c1c" stroke-width="1.1"/>
<text x="197.7" y="409.3" font-size="9.4" fill="#333" text-anchor="middle" transform="translate(197.7,0) scale(0.9,1) translate(-197.7,0)">10<tspan font-size="6.6" dy="-3.9">3</tspan></text>
<line x1="230" y1="394.7" x2="230" y2="397.7" stroke="#1c1c1c" stroke-width="1.1"/>
<text x="230.6" y="409.3" font-size="9.4" fill="#333" text-anchor="middle" transform="translate(230.6,0) scale(0.9,1) translate(-230.6,0)">10<tspan font-size="6.6" dy="-3.9">4</tspan></text>
<text x="147.95" y="420.3" font-size="10.4" fill="#333" text-anchor="middle" textLength="70" lengthAdjust="spacingAndGlyphs">Concentration (nM)</text>
<text x="0" y="0" transform="translate(24.5,325.5) rotate(-90)" font-size="9.7" fill="#333" text-anchor="middle" textLength="94" lengthAdjust="spacingAndGlyphs">Relative to vehicle control</text>
<path d="M51.55,339.5 h1.8 M55.62,339.5 h1.8 M59.68,339.5 h1.8 M63.75,339.5 h1.8 M67.81,339.5 h1.8 M71.88,339.5 h1.8 M75.94,339.5 h1.8 M80.01,339.5 h1.8 M84.07,339.5 h1.8 M88.14,339.5 h1.8 M92.21,339.5 h1.8 M96.27,339.5 h1.8 M100.34,339.5 h1.8 M104.4,339.5 h1.8 M108.47,339.5 h1.8 M112.53,339.5 h1.8 M116.6,339.5 h1.8 M120.67,339.5 h1.8 M124.73,339.5 h1.8 M128.8,339.5 h1.8 M132.86,339.5 h1.8 M136.93,339.5 h1.8 M140.99,339.5 h1.8 M145.06,339.5 h1.8 M149.12,339.5 h1.8 M153.19,339.5 h1.8 M157.26,339.5 h1.8 M161.32,339.5 h1.8 M165.39,339.5 h1.8 M169.45,339.5 h1.8 M173.52,339.5 h1.8 M177.58,339.5 h1.8 M181.65,339.5 h1.8 M185.72,339.5 h1.8 M189.78,339.5 h1.8 M193.85,339.5 h1.8 M197.91,339.5 h1.8 M201.98,339.5 h1.8 M206.04,339.5 h1.8 M210.11,339.5 h1.8 M214.17,339.5 h1.8 M218.24,339.5 h1.8 M222.31,339.5 h1.8 M226.37,339.5 h1.8 M230.44,339.5 h1.8 M234.5,339.5 h1.8 M238.57,339.5 h1.8 M242.63,339.5 h1.8 M246.7,339.5 h1.8" stroke="#3a3a3a" stroke-width="1.6" fill="none"/>
<path d="M65.5,258.64 L65.83,258.65 L66.16,258.66 L66.49,258.66 L66.82,258.67 L67.14,258.68 L67.47,258.69 L67.8,258.7 L68.13,258.71 L68.46,258.71 L68.79,258.72 L69.12,258.73 L69.45,258.74 L69.78,258.76 L70.11,258.77 L70.44,258.78 L70.76,258.79 L71.09,258.8 L71.42,258.82 L71.75,258.83 L72.08,258.84 L72.41,258.86 L72.74,258.87 L73.07,258.89 L73.4,258.91 L73.72,258.92 L74.05,258.94 L74.38,258.96 L74.71,258.98 L75.04,259 L75.37,259.02 L75.7,259.04 L76.03,259.06 L76.36,259.09 L76.69,259.11 L77.02,259.14 L77.34,259.16 L77.67,259.19 L78,259.22 L78.33,259.25 L78.66,259.28 L78.99,259.31 L79.32,259.34 L79.65,259.38 L79.98,259.41 L80.3,259.45 L80.63,259.49 L80.96,259.53 L81.29,259.57 L81.62,259.61 L81.95,259.65 L82.28,259.7 L82.61,259.75 L82.94,259.8 L83.27,259.85 L83.59,259.9 L83.92,259.96 L84.25,260.01 L84.58,260.07 L84.91,260.14 L85.24,260.2 L85.57,260.27 L85.9,260.34 L86.23,260.41 L86.56,260.48 L86.89,260.56 L87.21,260.64 L87.54,260.73 L87.87,260.81 L88.2,260.9 L88.53,261 L88.86,261.09 L89.19,261.19 L89.52,261.3 L89.85,261.4 L90.17,261.52 L90.5,261.63 L90.83,261.75 L91.16,261.88 L91.49,262.01 L91.82,262.14 L92.15,262.28 L92.48,262.43 L92.81,262.58 L93.14,262.73 L93.47,262.89 L93.79,263.06 L94.12,263.24 L94.45,263.41 L94.78,263.6 L95.11,263.79 L95.44,263.99 L95.77,264.2 L96.1,264.41 L96.43,264.63 L96.75,264.86 L97.08,265.1 L97.41,265.35 L97.74,265.6 L98.07,265.87 L98.4,266.14 L98.73,266.42 L99.06,266.71 L99.39,267.01 L99.72,267.32 L100.05,267.65 L100.37,267.98 L100.7,268.32 L101.03,268.68 L101.36,269.05 L101.69,269.43 L102.02,269.82 L102.35,270.22 L102.68,270.64 L103.01,271.07 L103.33,271.51 L103.66,271.97 L103.99,272.44 L104.32,272.93 L104.65,273.43 L104.98,273.95 L105.31,274.48 L105.64,275.03 L105.97,275.59 L106.3,276.17 L106.62,276.77 L106.95,277.38 L107.28,278.01 L107.61,278.66 L107.94,279.33 L108.27,280.01 L108.6,280.71 L108.93,281.43 L109.26,282.17 L109.59,282.92 L109.91,283.7 L110.24,284.49 L110.57,285.3 L110.9,286.13 L111.23,286.98 L111.56,287.85 L111.89,288.73 L112.22,289.64 L112.55,290.56 L112.88,291.5 L113.2,292.46 L113.53,293.44 L113.86,294.44 L114.19,295.45 L114.52,296.49 L114.85,297.53 L115.18,298.6 L115.51,299.68 L115.84,300.78 L116.17,301.89 L116.5,303.02 L116.82,304.16 L117.15,305.31 L117.48,306.48 L117.81,307.66 L118.14,308.86 L118.47,310.06 L118.8,311.27 L119.13,312.5 L119.46,313.73 L119.78,314.97 L120.11,316.22 L120.44,317.47 L120.77,318.73 L121.1,319.99 L121.43,321.26 L121.76,322.53 L122.09,323.8 L122.42,325.07 L122.75,326.34 L123.07,327.61 L123.4,328.88 L123.73,330.15 L124.06,331.41 L124.39,332.67 L124.72,333.92 L125.05,335.16 L125.38,336.4 L125.71,337.63 L126.04,338.85 L126.37,340.06 L126.69,341.26 L127.02,342.44 L127.35,343.62 L127.68,344.78 L128.01,345.93 L128.34,347.07 L128.67,348.19 L129,349.3 L129.33,350.39 L129.66,351.46 L129.98,352.52 L130.31,353.56 L130.64,354.59 L130.97,355.59 L131.3,356.58 L131.63,357.56 L131.96,358.51 L132.29,359.44 L132.62,360.36 L132.94,361.26 L133.27,362.14 L133.6,363 L133.93,363.84 L134.26,364.66 L134.59,365.46 L134.92,366.25 L135.25,367.02 L135.58,367.76 L135.91,368.49 L136.24,369.21 L136.56,369.9 L136.89,370.57 L137.22,371.23 L137.55,371.87 L137.88,372.5 L138.21,373.1 L138.54,373.69 L138.87,374.27 L139.2,374.82 L139.52,375.37 L139.85,375.89 L140.18,376.4 L140.51,376.9 L140.84,377.38 L141.17,377.85 L141.5,378.3 L141.83,378.74 L142.16,379.16 L142.49,379.57 L142.81,379.97 L143.14,380.36 L143.47,380.73 L143.8,381.1 L144.13,381.45 L144.46,381.79 L144.79,382.12 L145.12,382.43 L145.45,382.74 L145.78,383.04 L146.11,383.33 L146.43,383.61 L146.76,383.87 L147.09,384.13 L147.42,384.39 L147.75,384.63 L148.08,384.86 L148.41,385.09 L148.74,385.31 L149.07,385.52 L149.39,385.72 L149.72,385.92 L150.05,386.11 L150.38,386.29 L150.71,386.47 L151.04,386.64 L151.37,386.8 L151.7,386.96 L152.03,387.12 L152.36,387.26 L152.69,387.41 L153.01,387.54 L153.34,387.68 L153.67,387.8 L154,387.93 L154.33,388.05 L154.66,388.16 L154.99,388.27 L155.32,388.38 L155.65,388.48 L155.97,388.58 L156.3,388.68 L156.63,388.77 L156.96,388.86 L157.29,388.94 L157.62,389.02 L157.95,389.1 L158.28,389.18 L158.61,389.25 L158.94,389.33 L159.26,389.39 L159.59,389.46 L159.92,389.52 L160.25,389.58 L160.58,389.64 L160.91,389.7 L161.24,389.75 L161.57,389.81 L161.9,389.86 L162.23,389.91 L162.56,389.95 L162.88,390 L163.21,390.04 L163.54,390.08 L163.87,390.12 L164.2,390.16 L164.53,390.2 L164.86,390.24 L165.19,390.27 L165.52,390.31 L165.84,390.34 L166.17,390.37 L166.5,390.4 L166.83,390.43 L167.16,390.45 L167.49,390.48 L167.82,390.51 L168.15,390.53 L168.48,390.56 L168.81,390.58 L169.13,390.6 L169.46,390.62 L169.79,390.64 L170.12,390.66 L170.45,390.68 L170.78,390.7 L171.11,390.72 L171.44,390.73 L171.77,390.75 L172.1,390.77 L172.43,390.78 L172.75,390.79 L173.08,390.81 L173.41,390.82 L173.74,390.84 L174.07,390.85 L174.4,390.86 L174.73,390.87 L175.06,390.88 L175.39,390.89 L175.72,390.9 L176.04,390.91 L176.37,390.92 L176.7,390.93 L177.03,390.94 L177.36,390.95 L177.69,390.96 L178.02,390.97 L178.35,390.97 L178.68,390.98 L179,390.99 L179.33,390.99 L179.66,391 L179.99,391.01 L180.32,391.01 L180.65,391.02 L180.98,391.02 L181.31,391.03 L181.64,391.03 L181.97,391.04 L182.29,391.04 L182.62,391.05 L182.95,391.05 L183.28,391.06 L183.61,391.06 L183.94,391.07 L184.27,391.07 L184.6,391.07 L184.93,391.08 L185.26,391.08 L185.58,391.08 L185.91,391.09 L186.24,391.09 L186.57,391.09 L186.9,391.1 L187.23,391.1 L187.56,391.1 L187.89,391.1 L188.22,391.11 L188.55,391.11 L188.88,391.11 L189.2,391.11 L189.53,391.11 L189.86,391.12 L190.19,391.12 L190.52,391.12 L190.85,391.12 L191.18,391.12 L191.51,391.13 L191.84,391.13 L192.16,391.13 L192.49,391.13 L192.82,391.13 L193.15,391.13 L193.48,391.13 L193.81,391.14 L194.14,391.14 L194.47,391.14 L194.8,391.14 L195.13,391.14 L195.46,391.14 L195.78,391.14 L196.11,391.14 L196.44,391.14 L196.77,391.14 L197.1,391.15 L197.43,391.15 L197.76,391.15 L198.09,391.15 L198.42,391.15 L198.74,391.15 L199.07,391.15 L199.4,391.15 L199.73,391.15 L200.06,391.15 L200.39,391.15 L200.72,391.15 L201.05,391.15 L201.38,391.15 L201.71,391.15 L202.03,391.15 L202.36,391.16 L202.69,391.16 L203.02,391.16 L203.35,391.16 L203.68,391.16 L204.01,391.16 L204.34,391.16 L204.67,391.16 L205,391.16 L205.32,391.16 L205.65,391.16 L205.98,391.16 L206.31,391.16 L206.64,391.16 L206.97,391.16 L207.3,391.16 L207.63,391.16 L207.96,391.16 L208.29,391.16 L208.61,391.16 L208.94,391.16 L209.27,391.16 L209.6,391.16 L209.93,391.16 L210.26,391.16 L210.59,391.16 L210.92,391.16 L211.25,391.16 L211.58,391.16 L211.91,391.16 L212.23,391.16 L212.56,391.16 L212.89,391.16 L213.22,391.16 L213.55,391.16 L213.88,391.16 L214.21,391.16 L214.54,391.16 L214.87,391.16 L215.19,391.16 L215.52,391.16 L215.85,391.16 L216.18,391.16 L216.51,391.16 L216.84,391.17 L217.17,391.17 L217.5,391.17 L217.83,391.17 L218.16,391.17 L218.49,391.17 L218.81,391.17 L219.14,391.17 L219.47,391.17 L219.8,391.17 L220.13,391.17 L220.46,391.17 L220.79,391.17 L221.12,391.17 L221.45,391.17 L221.78,391.17 L222.1,391.17 L222.43,391.17 L222.76,391.17 L223.09,391.17 L223.42,391.17 L223.75,391.17 L224.08,391.17 L224.41,391.17 L224.74,391.17 L225.06,391.17 L225.39,391.17 L225.72,391.17 L226.05,391.17 L226.38,391.17 L226.71,391.17 L227.04,391.17 L227.37,391.17 L227.7,391.17 L228.03,391.17 L228.35,391.17 L228.68,391.17 L229.01,391.17 L229.34,391.17 L229.67,391.17 L230,391.17" stroke="#1B3D6B" stroke-width="1.25" fill="none"/>
<path d="M65.5,258.49 L65.83,258.5 L66.16,258.5 L66.49,258.5 L66.82,258.5 L67.14,258.5 L67.47,258.51 L67.8,258.51 L68.13,258.51 L68.46,258.51 L68.79,258.52 L69.12,258.52 L69.45,258.52 L69.78,258.53 L70.11,258.53 L70.44,258.53 L70.76,258.54 L71.09,258.54 L71.42,258.55 L71.75,258.55 L72.08,258.56 L72.41,258.56 L72.74,258.57 L73.07,258.58 L73.4,258.58 L73.72,258.59 L74.05,258.6 L74.38,258.61 L74.71,258.62 L75.04,258.63 L75.37,258.64 L75.7,258.65 L76.03,258.66 L76.36,258.67 L76.69,258.68 L77.02,258.7 L77.34,258.71 L77.67,258.73 L78,258.74 L78.33,258.76 L78.66,258.78 L78.99,258.8 L79.32,258.82 L79.65,258.84 L79.98,258.87 L80.3,258.89 L80.63,258.92 L80.96,258.95 L81.29,258.98 L81.62,259.01 L81.95,259.04 L82.28,259.08 L82.61,259.12 L82.94,259.16 L83.27,259.2 L83.59,259.25 L83.92,259.3 L84.25,259.35 L84.58,259.4 L84.91,259.46 L85.24,259.53 L85.57,259.59 L85.9,259.66 L86.23,259.74 L86.56,259.82 L86.89,259.9 L87.21,259.99 L87.54,260.09 L87.87,260.19 L88.2,260.29 L88.53,260.41 L88.86,260.53 L89.19,260.66 L89.52,260.79 L89.85,260.94 L90.17,261.09 L90.5,261.25 L90.83,261.42 L91.16,261.61 L91.49,261.8 L91.82,262 L92.15,262.22 L92.48,262.45 L92.81,262.69 L93.14,262.95 L93.47,263.22 L93.79,263.51 L94.12,263.82 L94.45,264.14 L94.78,264.48 L95.11,264.85 L95.44,265.23 L95.77,265.63 L96.1,266.06 L96.43,266.51 L96.75,266.98 L97.08,267.48 L97.41,268.01 L97.74,268.56 L98.07,269.15 L98.4,269.77 L98.73,270.41 L99.06,271.09 L99.39,271.81 L99.72,272.56 L100.05,273.35 L100.37,274.17 L100.7,275.04 L101.03,275.94 L101.36,276.89 L101.69,277.88 L102.02,278.91 L102.35,279.99 L102.68,281.11 L103.01,282.28 L103.33,283.49 L103.66,284.75 L103.99,286.05 L104.32,287.41 L104.65,288.8 L104.98,290.25 L105.31,291.74 L105.64,293.28 L105.97,294.86 L106.3,296.48 L106.62,298.14 L106.95,299.85 L107.28,301.59 L107.61,303.37 L107.94,305.18 L108.27,307.02 L108.6,308.89 L108.93,310.79 L109.26,312.71 L109.59,314.64 L109.91,316.6 L110.24,318.56 L110.57,320.53 L110.9,322.51 L111.23,324.49 L111.56,326.47 L111.89,328.44 L112.22,330.4 L112.55,332.35 L112.88,334.28 L113.2,336.19 L113.53,338.07 L113.86,339.93 L114.19,341.76 L114.52,343.56 L114.85,345.32 L115.18,347.05 L115.51,348.74 L115.84,350.39 L116.17,351.99 L116.5,353.55 L116.82,355.07 L117.15,356.54 L117.48,357.97 L117.81,359.35 L118.14,360.69 L118.47,361.97 L118.8,363.21 L119.13,364.41 L119.46,365.56 L119.78,366.66 L120.11,367.72 L120.44,368.73 L120.77,369.7 L121.1,370.63 L121.43,371.52 L121.76,372.37 L122.09,373.18 L122.42,373.96 L122.75,374.69 L123.07,375.39 L123.4,376.06 L123.73,376.7 L124.06,377.3 L124.39,377.87 L124.72,378.42 L125.05,378.93 L125.38,379.42 L125.71,379.89 L126.04,380.33 L126.37,380.74 L126.69,381.14 L127.02,381.51 L127.35,381.87 L127.68,382.2 L128.01,382.52 L128.34,382.82 L128.67,383.1 L129,383.36 L129.33,383.62 L129.66,383.85 L129.98,384.08 L130.31,384.29 L130.64,384.49 L130.97,384.68 L131.3,384.86 L131.63,385.03 L131.96,385.18 L132.29,385.33 L132.62,385.47 L132.94,385.61 L133.27,385.73 L133.6,385.85 L133.93,385.96 L134.26,386.07 L134.59,386.16 L134.92,386.26 L135.25,386.34 L135.58,386.43 L135.91,386.5 L136.24,386.58 L136.56,386.65 L136.89,386.71 L137.22,386.77 L137.55,386.83 L137.88,386.88 L138.21,386.93 L138.54,386.98 L138.87,387.03 L139.2,387.07 L139.52,387.11 L139.85,387.15 L140.18,387.18 L140.51,387.22 L140.84,387.25 L141.17,387.28 L141.5,387.3 L141.83,387.33 L142.16,387.35 L142.49,387.38 L142.81,387.4 L143.14,387.42 L143.47,387.44 L143.8,387.46 L144.13,387.47 L144.46,387.49 L144.79,387.51 L145.12,387.52 L145.45,387.53 L145.78,387.55 L146.11,387.56 L146.43,387.57 L146.76,387.58 L147.09,387.59 L147.42,387.6 L147.75,387.61 L148.08,387.62 L148.41,387.62 L148.74,387.63 L149.07,387.64 L149.39,387.64 L149.72,387.65 L150.05,387.65 L150.38,387.66 L150.71,387.67 L151.04,387.67 L151.37,387.67 L151.7,387.68 L152.03,387.68 L152.36,387.69 L152.69,387.69 L153.01,387.69 L153.34,387.7 L153.67,387.7 L154,387.7 L154.33,387.7 L154.66,387.71 L154.99,387.71 L155.32,387.71 L155.65,387.71 L155.97,387.71 L156.3,387.72 L156.63,387.72 L156.96,387.72 L157.29,387.72 L157.62,387.72 L157.95,387.72 L158.28,387.73 L158.61,387.73 L158.94,387.73 L159.26,387.73 L159.59,387.73 L159.92,387.73 L160.25,387.73 L160.58,387.73 L160.91,387.73 L161.24,387.73 L161.57,387.73 L161.9,387.73 L162.23,387.74 L162.56,387.74 L162.88,387.74 L163.21,387.74 L163.54,387.74 L163.87,387.74 L164.2,387.74 L164.53,387.74 L164.86,387.74 L165.19,387.74 L165.52,387.74 L165.84,387.74 L166.17,387.74 L166.5,387.74 L166.83,387.74 L167.16,387.74 L167.49,387.74 L167.82,387.74 L168.15,387.74 L168.48,387.74 L168.81,387.74 L169.13,387.74 L169.46,387.74 L169.79,387.74 L170.12,387.74 L170.45,387.74 L170.78,387.74 L171.11,387.74 L171.44,387.74 L171.77,387.74 L172.1,387.74 L172.43,387.74 L172.75,387.74 L173.08,387.74 L173.41,387.74 L173.74,387.74 L174.07,387.74 L174.4,387.74 L174.73,387.74 L175.06,387.74 L175.39,387.74 L175.72,387.74 L176.04,387.74 L176.37,387.74 L176.7,387.74 L177.03,387.74 L177.36,387.74 L177.69,387.74 L178.02,387.74 L178.35,387.74 L178.68,387.74 L179,387.74 L179.33,387.74 L179.66,387.74 L179.99,387.74 L180.32,387.74 L180.65,387.74 L180.98,387.74 L181.31,387.74 L181.64,387.74 L181.97,387.74 L182.29,387.74 L182.62,387.74 L182.95,387.74 L183.28,387.74 L183.61,387.74 L183.94,387.74 L184.27,387.74 L184.6,387.74 L184.93,387.74 L185.26,387.74 L185.58,387.74 L185.91,387.74 L186.24,387.74 L186.57,387.74 L186.9,387.74 L187.23,387.74 L187.56,387.74 L187.89,387.74 L188.22,387.74 L188.55,387.74 L188.88,387.74 L189.2,387.74 L189.53,387.74 L189.86,387.74 L190.19,387.74 L190.52,387.74 L190.85,387.74 L191.18,387.74 L191.51,387.74 L191.84,387.74 L192.16,387.74 L192.49,387.74 L192.82,387.74 L193.15,387.74 L193.48,387.74 L193.81,387.74 L194.14,387.74 L194.47,387.74 L194.8,387.74 L195.13,387.74 L195.46,387.74 L195.78,387.74 L196.11,387.74 L196.44,387.74 L196.77,387.74 L197.1,387.74 L197.43,387.74 L197.76,387.74 L198.09,387.74 L198.42,387.74 L198.74,387.74 L199.07,387.74 L199.4,387.74 L199.73,387.74 L200.06,387.74 L200.39,387.74 L200.72,387.74 L201.05,387.74 L201.38,387.74 L201.71,387.74 L202.03,387.74 L202.36,387.74 L202.69,387.74 L203.02,387.74 L203.35,387.74 L203.68,387.74 L204.01,387.74 L204.34,387.74 L204.67,387.74 L205,387.74 L205.32,387.74 L205.65,387.74 L205.98,387.74 L206.31,387.74 L206.64,387.74 L206.97,387.74 L207.3,387.74 L207.63,387.74 L207.96,387.74 L208.29,387.74 L208.61,387.74 L208.94,387.74 L209.27,387.74 L209.6,387.74 L209.93,387.74 L210.26,387.74 L210.59,387.74 L210.92,387.74 L211.25,387.74 L211.58,387.74 L211.91,387.74 L212.23,387.74 L212.56,387.74 L212.89,387.74 L213.22,387.74 L213.55,387.74 L213.88,387.74 L214.21,387.74 L214.54,387.74 L214.87,387.74 L215.19,387.74 L215.52,387.74 L215.85,387.74 L216.18,387.74 L216.51,387.74 L216.84,387.74 L217.17,387.74 L217.5,387.74 L217.83,387.74 L218.16,387.74 L218.49,387.74 L218.81,387.74 L219.14,387.74 L219.47,387.74 L219.8,387.74 L220.13,387.74 L220.46,387.74 L220.79,387.74 L221.12,387.74 L221.45,387.74 L221.78,387.74 L222.1,387.74 L222.43,387.74 L222.76,387.74 L223.09,387.74 L223.42,387.74 L223.75,387.74 L224.08,387.74 L224.41,387.74 L224.74,387.74 L225.06,387.74 L225.39,387.74 L225.72,387.74 L226.05,387.74 L226.38,387.74 L226.71,387.74 L227.04,387.74 L227.37,387.74 L227.7,387.74 L228.03,387.74 L228.35,387.74 L228.68,387.74 L229.01,387.74 L229.34,387.74 L229.67,387.74 L230,387.74" stroke="#F1921A" stroke-width="1.25" fill="none"/>
<path d="M65.5,256.5 V280.2 M63,280.2 H68" stroke="#1B3D6B" stroke-width="1.15" stroke-opacity="0.85" fill="none"/>
<path d="M98.4,257.5 V276 M95.9,257.5 H100.9 M95.9,276 H100.9" stroke="#1B3D6B" stroke-width="1.15" stroke-opacity="0.85" fill="none"/>
<path d="M65.5,258 V272.1 M63,258 H68 M63,272.1 H68" stroke="#F1921A" stroke-width="1.15" stroke-opacity="0.85" fill="none"/>
<path d="M131.3,380 V388.5 M128.8,380 H133.8 M128.8,388.5 H133.8" stroke="#F1921A" stroke-width="1.15" stroke-opacity="0.85" fill="none"/>
<path d="M65.5,256.92 L68.3,262.52 L62.7,262.52 Z" fill="#1B3D6B"/>
<path d="M98.4,266.42 L101.2,272.02 L95.6,272.02 Z" fill="#1B3D6B"/>
<path d="M131.3,353.12 L134.1,358.72 L128.5,358.72 Z" fill="#1B3D6B"/>
<path d="M164.2,387.42 L167,393.02 L161.4,393.02 Z" fill="#1B3D6B"/>
<path d="M197.1,388.42 L199.9,394.02 L194.3,394.02 Z" fill="#1B3D6B"/>
<path d="M230,388.42 L232.8,394.02 L227.2,394.02 Z" fill="#1B3D6B"/>
<rect x="62.6" y="256.6" width="5.8" height="5.8" fill="#F1921A"/>
<rect x="95.5" y="267.9" width="5.8" height="5.8" fill="#F1921A"/>
<rect x="128.4" y="381.4" width="5.8" height="5.8" fill="#F1921A"/>
<rect x="161.3" y="383.3" width="5.8" height="5.8" fill="#F1921A"/>
<rect x="194.2" y="385.3" width="5.8" height="5.8" fill="#F1921A"/>
<rect x="227.1" y="384.3" width="5.8" height="5.8" fill="#F1921A"/>
<line x1="187.2" y1="283.5" x2="200.5" y2="283.5" stroke="#F1921A" stroke-width="1.3"/>
<rect x="190.95" y="280.6" width="5.8" height="5.8" fill="#F1921A"/>
<text x="203.8" y="286.4" font-size="8.4" fill="#333" textLength="37" lengthAdjust="spacingAndGlyphs">CC-90009</text>
<line x1="187.2" y1="295.8" x2="200.5" y2="295.8" stroke="#1B3D6B" stroke-width="1.3"/>
<path d="M193.85,292.72 L196.65,298.32 L191.05,298.32 Z" fill="#1B3D6B"/>
<text x="203.8" y="298.7" font-size="8.4" fill="#333" textLength="26.4" lengthAdjust="spacingAndGlyphs">SJ6986</text></g>
<g><text x="263.9" y="235" font-size="12.2" font-weight="bold" fill="#111" stroke="#111" stroke-width="0.55">D</text>
<text x="401.5" y="241.7" font-size="11" fill="#333" text-anchor="middle" textLength="139.7" lengthAdjust="spacingAndGlyphs"><tspan>SJBALL021415, </tspan><tspan font-style="italic">P2RY8-CRLF2</tspan></text>
<path d="M304.3,246.2 V394.7 H498" stroke="#1c1c1c" stroke-width="1.3" fill="none"/>
<line x1="301" y1="394.7" x2="304.3" y2="394.7" stroke="#1c1c1c" stroke-width="1.1"/>
<text x="298" y="397.7" font-size="10" fill="#333" text-anchor="end" transform="translate(298,0) scale(0.86,1) translate(-298,0)">0</text>
<line x1="301" y1="335.8" x2="304.3" y2="335.8" stroke="#1c1c1c" stroke-width="1.1"/>
<text x="298" y="338.8" font-size="10" fill="#333" text-anchor="end" transform="translate(298,0) scale(0.86,1) translate(-298,0)">50</text>
<line x1="301" y1="276.9" x2="304.3" y2="276.9" stroke="#1c1c1c" stroke-width="1.1"/>
<text x="298" y="279.9" font-size="10" fill="#333" text-anchor="end" transform="translate(298,0) scale(0.86,1) translate(-298,0)">100</text>
<line x1="320.5" y1="394.7" x2="320.5" y2="397.7" stroke="#1c1c1c" stroke-width="1.1"/>
<text x="321.1" y="409.3" font-size="9.4" fill="#333" text-anchor="middle" transform="translate(321.1,0) scale(0.9,1) translate(-321.1,0)">10<tspan font-size="6.6" dy="-3.9">−1</tspan></text>
<line x1="352.65" y1="394.7" x2="352.65" y2="397.7" stroke="#1c1c1c" stroke-width="1.1"/>
<text x="353.25" y="409.3" font-size="9.4" fill="#333" text-anchor="middle" transform="translate(353.25,0) scale(0.9,1) translate(-353.25,0)">10<tspan font-size="6.6" dy="-3.9">0</tspan></text>
<line x1="384.8" y1="394.7" x2="384.8" y2="397.7" stroke="#1c1c1c" stroke-width="1.1"/>
<text x="385.4" y="409.3" font-size="9.4" fill="#333" text-anchor="middle" transform="translate(385.4,0) scale(0.9,1) translate(-385.4,0)">10<tspan font-size="6.6" dy="-3.9">1</tspan></text>
<line x1="416.95" y1="394.7" x2="416.95" y2="397.7" stroke="#1c1c1c" stroke-width="1.1"/>
<text x="417.55" y="409.3" font-size="9.4" fill="#333" text-anchor="middle" transform="translate(417.55,0) scale(0.9,1) translate(-417.55,0)">10<tspan font-size="6.6" dy="-3.9">2</tspan></text>
<line x1="449.1" y1="394.7" x2="449.1" y2="397.7" stroke="#1c1c1c" stroke-width="1.1"/>
<text x="449.7" y="409.3" font-size="9.4" fill="#333" text-anchor="middle" transform="translate(449.7,0) scale(0.9,1) translate(-449.7,0)">10<tspan font-size="6.6" dy="-3.9">3</tspan></text>
<line x1="481.25" y1="394.7" x2="481.25" y2="397.7" stroke="#1c1c1c" stroke-width="1.1"/>
<text x="481.85" y="409.3" font-size="9.4" fill="#333" text-anchor="middle" transform="translate(481.85,0) scale(0.9,1) translate(-481.85,0)">10<tspan font-size="6.6" dy="-3.9">4</tspan></text>
<text x="401.15" y="420.3" font-size="10.4" fill="#333" text-anchor="middle" textLength="70" lengthAdjust="spacingAndGlyphs">Concentration (nM)</text>
<text x="0" y="0" transform="translate(279.9,320.45) rotate(-90)" font-size="9.7" fill="#333" text-anchor="middle" textLength="94" lengthAdjust="spacingAndGlyphs">Relative to vehicle control</text>
<path d="M306.95,335.8 h1.8 M311.01,335.8 h1.8 M315.07,335.8 h1.8 M319.13,335.8 h1.8 M323.18,335.8 h1.8 M327.24,335.8 h1.8 M331.3,335.8 h1.8 M335.36,335.8 h1.8 M339.42,335.8 h1.8 M343.48,335.8 h1.8 M347.54,335.8 h1.8 M351.59,335.8 h1.8 M355.65,335.8 h1.8 M359.71,335.8 h1.8 M363.77,335.8 h1.8 M367.83,335.8 h1.8 M371.89,335.8 h1.8 M375.94,335.8 h1.8 M380,335.8 h1.8 M384.06,335.8 h1.8 M388.12,335.8 h1.8 M392.18,335.8 h1.8 M396.24,335.8 h1.8 M400.3,335.8 h1.8 M404.35,335.8 h1.8 M408.41,335.8 h1.8 M412.47,335.8 h1.8 M416.53,335.8 h1.8 M420.59,335.8 h1.8 M424.65,335.8 h1.8 M428.71,335.8 h1.8 M432.76,335.8 h1.8 M436.82,335.8 h1.8 M440.88,335.8 h1.8 M444.94,335.8 h1.8 M449,335.8 h1.8 M453.06,335.8 h1.8 M457.11,335.8 h1.8 M461.17,335.8 h1.8 M465.23,335.8 h1.8 M469.29,335.8 h1.8 M473.35,335.8 h1.8 M477.41,335.8 h1.8 M481.47,335.8 h1.8 M485.52,335.8 h1.8 M489.58,335.8 h1.8 M493.64,335.8 h1.8 M497.7,335.8 h1.8" stroke="#3a3a3a" stroke-width="1.6" fill="none"/>
<path d="M320.5,299.64 L320.82,299.64 L321.14,299.64 L321.46,299.64 L321.79,299.64 L322.11,299.64 L322.43,299.64 L322.75,299.64 L323.07,299.64 L323.39,299.64 L323.71,299.64 L324.04,299.64 L324.36,299.64 L324.68,299.64 L325,299.64 L325.32,299.64 L325.64,299.64 L325.97,299.64 L326.29,299.64 L326.61,299.64 L326.93,299.64 L327.25,299.64 L327.57,299.64 L327.89,299.64 L328.22,299.64 L328.54,299.64 L328.86,299.64 L329.18,299.64 L329.5,299.64 L329.82,299.64 L330.14,299.64 L330.47,299.64 L330.79,299.64 L331.11,299.64 L331.43,299.64 L331.75,299.64 L332.07,299.64 L332.4,299.64 L332.72,299.64 L333.04,299.64 L333.36,299.64 L333.68,299.64 L334,299.64 L334.32,299.64 L334.65,299.64 L334.97,299.64 L335.29,299.64 L335.61,299.64 L335.93,299.64 L336.25,299.64 L336.57,299.64 L336.9,299.64 L337.22,299.64 L337.54,299.64 L337.86,299.64 L338.18,299.64 L338.5,299.64 L338.83,299.64 L339.15,299.64 L339.47,299.64 L339.79,299.64 L340.11,299.64 L340.43,299.64 L340.75,299.64 L341.08,299.64 L341.4,299.64 L341.72,299.64 L342.04,299.64 L342.36,299.64 L342.68,299.64 L343,299.64 L343.33,299.64 L343.65,299.64 L343.97,299.64 L344.29,299.64 L344.61,299.64 L344.93,299.64 L345.26,299.64 L345.58,299.64 L345.9,299.64 L346.22,299.64 L346.54,299.64 L346.86,299.64 L347.18,299.64 L347.51,299.64 L347.83,299.64 L348.15,299.64 L348.47,299.64 L348.79,299.64 L349.11,299.64 L349.44,299.64 L349.76,299.64 L350.08,299.64 L350.4,299.64 L350.72,299.64 L351.04,299.64 L351.36,299.64 L351.69,299.64 L352.01,299.64 L352.33,299.64 L352.65,299.64 L352.97,299.64 L353.29,299.64 L353.61,299.64 L353.94,299.64 L354.26,299.64 L354.58,299.64 L354.9,299.64 L355.22,299.64 L355.54,299.64 L355.87,299.64 L356.19,299.64 L356.51,299.64 L356.83,299.64 L357.15,299.64 L357.47,299.64 L357.79,299.64 L358.12,299.64 L358.44,299.64 L358.76,299.64 L359.08,299.64 L359.4,299.64 L359.72,299.64 L360.04,299.64 L360.37,299.64 L360.69,299.64 L361.01,299.64 L361.33,299.64 L361.65,299.64 L361.97,299.64 L362.3,299.64 L362.62,299.64 L362.94,299.64 L363.26,299.64 L363.58,299.64 L363.9,299.64 L364.22,299.64 L364.55,299.64 L364.87,299.64 L365.19,299.64 L365.51,299.64 L365.83,299.64 L366.15,299.64 L366.47,299.64 L366.8,299.64 L367.12,299.64 L367.44,299.64 L367.76,299.64 L368.08,299.64 L368.4,299.64 L368.73,299.64 L369.05,299.64 L369.37,299.64 L369.69,299.64 L370.01,299.64 L370.33,299.64 L370.65,299.64 L370.98,299.64 L371.3,299.64 L371.62,299.64 L371.94,299.64 L372.26,299.64 L372.58,299.64 L372.9,299.64 L373.23,299.64 L373.55,299.64 L373.87,299.64 L374.19,299.64 L374.51,299.64 L374.83,299.64 L375.15,299.64 L375.48,299.64 L375.8,299.64 L376.12,299.64 L376.44,299.64 L376.76,299.64 L377.08,299.64 L377.41,299.64 L377.73,299.64 L378.05,299.64 L378.37,299.64 L378.69,299.64 L379.01,299.64 L379.33,299.64 L379.66,299.64 L379.98,299.64 L380.3,299.64 L380.62,299.64 L380.94,299.64 L381.26,299.64 L381.58,299.64 L381.91,299.64 L382.23,299.64 L382.55,299.64 L382.87,299.64 L383.19,299.64 L383.51,299.64 L383.84,299.64 L384.16,299.64 L384.48,299.64 L384.8,299.64 L385.12,299.64 L385.44,299.64 L385.76,299.64 L386.09,299.64 L386.41,299.64 L386.73,299.64 L387.05,299.64 L387.37,299.64 L387.69,299.64 L388.01,299.64 L388.34,299.64 L388.66,299.64 L388.98,299.64 L389.3,299.64 L389.62,299.64 L389.94,299.64 L390.27,299.64 L390.59,299.64 L390.91,299.64 L391.23,299.64 L391.55,299.64 L391.87,299.64 L392.19,299.64 L392.52,299.64 L392.84,299.64 L393.16,299.64 L393.48,299.64 L393.8,299.64 L394.12,299.64 L394.44,299.64 L394.77,299.64 L395.09,299.64 L395.41,299.64 L395.73,299.64 L396.05,299.64 L396.37,299.64 L396.7,299.64 L397.02,299.64 L397.34,299.64 L397.66,299.64 L397.98,299.64 L398.3,299.64 L398.62,299.64 L398.95,299.64 L399.27,299.64 L399.59,299.64 L399.91,299.64 L400.23,299.64 L400.55,299.64 L400.88,299.64 L401.2,299.64 L401.52,299.65 L401.84,299.65 L402.16,299.66 L402.48,299.66 L402.8,299.67 L403.13,299.68 L403.45,299.7 L403.77,299.72 L404.09,299.74 L404.41,299.78 L404.73,299.82 L405.05,299.88 L405.38,299.95 L405.7,300.06 L406.02,300.19 L406.34,300.36 L406.66,300.59 L406.98,300.89 L407.31,301.29 L407.63,301.8 L407.95,302.47 L408.27,303.34 L408.59,304.46 L408.91,305.89 L409.23,307.72 L409.56,310.01 L409.88,312.85 L410.2,316.32 L410.52,320.46 L410.84,325.3 L411.16,330.79 L411.48,336.83 L411.81,343.24 L412.13,349.79 L412.45,356.25 L412.77,362.37 L413.09,367.99 L413.41,372.96 L413.74,377.25 L414.06,380.84 L414.38,383.81 L414.7,386.2 L415.02,388.11 L415.34,389.62 L415.66,390.79 L415.99,391.71 L416.31,392.41 L416.63,392.95 L416.95,393.37 L417.27,393.69 L417.59,393.93 L417.91,394.11 L418.24,394.26 L418.56,394.36 L418.88,394.44 L419.2,394.51 L419.52,394.55 L419.84,394.59 L420.16,394.61 L420.49,394.64 L420.81,394.65 L421.13,394.66 L421.45,394.67 L421.77,394.68 L422.09,394.68 L422.42,394.69 L422.74,394.69 L423.06,394.69 L423.38,394.69 L423.7,394.7 L424.02,394.7 L424.34,394.7 L424.67,394.7 L424.99,394.7 L425.31,394.7 L425.63,394.7 L425.95,394.7 L426.27,394.7 L426.59,394.7 L426.92,394.7 L427.24,394.7 L427.56,394.7 L427.88,394.7 L428.2,394.7 L428.52,394.7 L428.85,394.7 L429.17,394.7 L429.49,394.7 L429.81,394.7 L430.13,394.7 L430.45,394.7 L430.77,394.7 L431.1,394.7 L431.42,394.7 L431.74,394.7 L432.06,394.7 L432.38,394.7 L432.7,394.7 L433.02,394.7 L433.35,394.7 L433.67,394.7 L433.99,394.7 L434.31,394.7 L434.63,394.7 L434.95,394.7 L435.28,394.7 L435.6,394.7 L435.92,394.7 L436.24,394.7 L436.56,394.7 L436.88,394.7 L437.2,394.7 L437.53,394.7 L437.85,394.7 L438.17,394.7 L438.49,394.7 L438.81,394.7 L439.13,394.7 L439.45,394.7 L439.78,394.7 L440.1,394.7 L440.42,394.7 L440.74,394.7 L441.06,394.7 L441.38,394.7 L441.71,394.7 L442.03,394.7 L442.35,394.7 L442.67,394.7 L442.99,394.7 L443.31,394.7 L443.63,394.7 L443.96,394.7 L444.28,394.7 L444.6,394.7 L444.92,394.7 L445.24,394.7 L445.56,394.7 L445.88,394.7 L446.21,394.7 L446.53,394.7 L446.85,394.7 L447.17,394.7 L447.49,394.7 L447.81,394.7 L448.14,394.7 L448.46,394.7 L448.78,394.7 L449.1,394.7 L449.42,394.7 L449.74,394.7 L450.06,394.7 L450.39,394.7 L450.71,394.7 L451.03,394.7 L451.35,394.7 L451.67,394.7 L451.99,394.7 L452.31,394.7 L452.64,394.7 L452.96,394.7 L453.28,394.7 L453.6,394.7 L453.92,394.7 L454.24,394.7 L454.57,394.7 L454.89,394.7 L455.21,394.7 L455.53,394.7 L455.85,394.7 L456.17,394.7 L456.49,394.7 L456.82,394.7 L457.14,394.7 L457.46,394.7 L457.78,394.7 L458.1,394.7 L458.42,394.7 L458.75,394.7 L459.07,394.7 L459.39,394.7 L459.71,394.7 L460.03,394.7 L460.35,394.7 L460.67,394.7 L461,394.7 L461.32,394.7 L461.64,394.7 L461.96,394.7 L462.28,394.7 L462.6,394.7 L462.92,394.7 L463.25,394.7 L463.57,394.7 L463.89,394.7 L464.21,394.7 L464.53,394.7 L464.85,394.7 L465.17,394.7 L465.5,394.7 L465.82,394.7 L466.14,394.7 L466.46,394.7 L466.78,394.7 L467.1,394.7 L467.43,394.7 L467.75,394.7 L468.07,394.7 L468.39,394.7 L468.71,394.7 L469.03,394.7 L469.35,394.7 L469.68,394.7 L470,394.7 L470.32,394.7 L470.64,394.7 L470.96,394.7 L471.28,394.7 L471.61,394.7 L471.93,394.7 L472.25,394.7 L472.57,394.7 L472.89,394.7 L473.21,394.7 L473.53,394.7 L473.86,394.7 L474.18,394.7 L474.5,394.7 L474.82,394.7 L475.14,394.7 L475.46,394.7 L475.78,394.7 L476.11,394.7 L476.43,394.7 L476.75,394.7 L477.07,394.7 L477.39,394.7 L477.71,394.7 L478.03,394.7 L478.36,394.7 L478.68,394.7 L479,394.7 L479.32,394.7 L479.64,394.7 L479.96,394.7 L480.29,394.7 L480.61,394.7 L480.93,394.7 L481.25,394.7" stroke="#1B3D6B" stroke-width="1.25" fill="none"/>
<path d="M320.5,285.74 L320.82,285.74 L321.14,285.74 L321.46,285.74 L321.79,285.74 L322.11,285.74 L322.43,285.74 L322.75,285.74 L323.07,285.74 L323.39,285.74 L323.71,285.74 L324.04,285.74 L324.36,285.74 L324.68,285.74 L325,285.74 L325.32,285.74 L325.64,285.74 L325.97,285.74 L326.29,285.74 L326.61,285.74 L326.93,285.74 L327.25,285.74 L327.57,285.74 L327.89,285.74 L328.22,285.74 L328.54,285.74 L328.86,285.74 L329.18,285.74 L329.5,285.74 L329.82,285.74 L330.14,285.74 L330.47,285.74 L330.79,285.74 L331.11,285.74 L331.43,285.74 L331.75,285.74 L332.07,285.74 L332.4,285.74 L332.72,285.74 L333.04,285.74 L333.36,285.74 L333.68,285.74 L334,285.74 L334.32,285.74 L334.65,285.74 L334.97,285.74 L335.29,285.74 L335.61,285.74 L335.93,285.74 L336.25,285.74 L336.57,285.74 L336.9,285.74 L337.22,285.74 L337.54,285.74 L337.86,285.74 L338.18,285.74 L338.5,285.74 L338.83,285.74 L339.15,285.74 L339.47,285.74 L339.79,285.74 L340.11,285.74 L340.43,285.74 L340.75,285.74 L341.08,285.74 L341.4,285.74 L341.72,285.74 L342.04,285.74 L342.36,285.74 L342.68,285.74 L343,285.74 L343.33,285.74 L343.65,285.74 L343.97,285.74 L344.29,285.74 L344.61,285.74 L344.93,285.74 L345.26,285.74 L345.58,285.74 L345.9,285.74 L346.22,285.74 L346.54,285.74 L346.86,285.74 L347.18,285.74 L347.51,285.74 L347.83,285.74 L348.15,285.74 L348.47,285.74 L348.79,285.74 L349.11,285.74 L349.44,285.74 L349.76,285.74 L350.08,285.74 L350.4,285.74 L350.72,285.74 L351.04,285.74 L351.36,285.74 L351.69,285.74 L352.01,285.74 L352.33,285.74 L352.65,285.74 L352.97,285.74 L353.29,285.74 L353.61,285.74 L353.94,285.74 L354.26,285.74 L354.58,285.74 L354.9,285.74 L355.22,285.74 L355.54,285.74 L355.87,285.74 L356.19,285.74 L356.51,285.74 L356.83,285.74 L357.15,285.74 L357.47,285.74 L357.79,285.74 L358.12,285.74 L358.44,285.74 L358.76,285.74 L359.08,285.74 L359.4,285.74 L359.72,285.74 L360.04,285.74 L360.37,285.74 L360.69,285.74 L361.01,285.75 L361.33,285.75 L361.65,285.75 L361.97,285.75 L362.3,285.75 L362.62,285.75 L362.94,285.76 L363.26,285.76 L363.58,285.76 L363.9,285.77 L364.22,285.77 L364.55,285.78 L364.87,285.78 L365.19,285.79 L365.51,285.8 L365.83,285.81 L366.15,285.82 L366.47,285.83 L366.8,285.84 L367.12,285.86 L367.44,285.87 L367.76,285.89 L368.08,285.91 L368.4,285.94 L368.73,285.97 L369.05,286 L369.37,286.04 L369.69,286.08 L370.01,286.13 L370.33,286.18 L370.65,286.25 L370.98,286.32 L371.3,286.4 L371.62,286.49 L371.94,286.6 L372.26,286.72 L372.58,286.85 L372.9,287.01 L373.23,287.19 L373.55,287.39 L373.87,287.61 L374.19,287.87 L374.51,288.17 L374.83,288.5 L375.15,288.88 L375.48,289.3 L375.8,289.78 L376.12,290.33 L376.44,290.94 L376.76,291.63 L377.08,292.41 L377.41,293.28 L377.73,294.25 L378.05,295.34 L378.37,296.56 L378.69,297.9 L379.01,299.4 L379.33,301.04 L379.66,302.85 L379.98,304.83 L380.3,306.99 L380.62,309.33 L380.94,311.84 L381.26,314.53 L381.58,317.4 L381.91,320.43 L382.23,323.6 L382.55,326.91 L382.87,330.32 L383.19,333.81 L383.51,337.36 L383.84,340.93 L384.16,344.5 L384.48,348.03 L384.8,351.49 L385.12,354.86 L385.44,358.12 L385.76,361.24 L386.09,364.2 L386.41,367 L386.73,369.62 L387.05,372.07 L387.37,374.33 L387.69,376.41 L388.01,378.33 L388.34,380.07 L388.66,381.65 L388.98,383.09 L389.3,384.38 L389.62,385.54 L389.94,386.59 L390.27,387.52 L390.59,388.35 L390.91,389.09 L391.23,389.75 L391.55,390.33 L391.87,390.85 L392.19,391.31 L392.52,391.72 L392.84,392.07 L393.16,392.39 L393.48,392.67 L393.8,392.91 L394.12,393.13 L394.44,393.32 L394.77,393.49 L395.09,393.64 L395.41,393.77 L395.73,393.88 L396.05,393.98 L396.37,394.07 L396.7,394.15 L397.02,394.21 L397.34,394.27 L397.66,394.33 L397.98,394.37 L398.3,394.41 L398.62,394.45 L398.95,394.48 L399.27,394.51 L399.59,394.53 L399.91,394.55 L400.23,394.57 L400.55,394.58 L400.88,394.6 L401.2,394.61 L401.52,394.62 L401.84,394.63 L402.16,394.64 L402.48,394.65 L402.8,394.65 L403.13,394.66 L403.45,394.66 L403.77,394.67 L404.09,394.67 L404.41,394.68 L404.73,394.68 L405.05,394.68 L405.38,394.68 L405.7,394.69 L406.02,394.69 L406.34,394.69 L406.66,394.69 L406.98,394.69 L407.31,394.69 L407.63,394.69 L407.95,394.69 L408.27,394.7 L408.59,394.7 L408.91,394.7 L409.23,394.7 L409.56,394.7 L409.88,394.7 L410.2,394.7 L410.52,394.7 L410.84,394.7 L411.16,394.7 L411.48,394.7 L411.81,394.7 L412.13,394.7 L412.45,394.7 L412.77,394.7 L413.09,394.7 L413.41,394.7 L413.74,394.7 L414.06,394.7 L414.38,394.7 L414.7,394.7 L415.02,394.7 L415.34,394.7 L415.66,394.7 L415.99,394.7 L416.31,394.7 L416.63,394.7 L416.95,394.7 L417.27,394.7 L417.59,394.7 L417.91,394.7 L418.24,394.7 L418.56,394.7 L418.88,394.7 L419.2,394.7 L419.52,394.7 L419.84,394.7 L420.16,394.7 L420.49,394.7 L420.81,394.7 L421.13,394.7 L421.45,394.7 L421.77,394.7 L422.09,394.7 L422.42,394.7 L422.74,394.7 L423.06,394.7 L423.38,394.7 L423.7,394.7 L424.02,394.7 L424.34,394.7 L424.67,394.7 L424.99,394.7 L425.31,394.7 L425.63,394.7 L425.95,394.7 L426.27,394.7 L426.59,394.7 L426.92,394.7 L427.24,394.7 L427.56,394.7 L427.88,394.7 L428.2,394.7 L428.52,394.7 L428.85,394.7 L429.17,394.7 L429.49,394.7 L429.81,394.7 L430.13,394.7 L430.45,394.7 L430.77,394.7 L431.1,394.7 L431.42,394.7 L431.74,394.7 L432.06,394.7 L432.38,394.7 L432.7,394.7 L433.02,394.7 L433.35,394.7 L433.67,394.7 L433.99,394.7 L434.31,394.7 L434.63,394.7 L434.95,394.7 L435.28,394.7 L435.6,394.7 L435.92,394.7 L436.24,394.7 L436.56,394.7 L436.88,394.7 L437.2,394.7 L437.53,394.7 L437.85,394.7 L438.17,394.7 L438.49,394.7 L438.81,394.7 L439.13,394.7 L439.45,394.7 L439.78,394.7 L440.1,394.7 L440.42,394.7 L440.74,394.7 L441.06,394.7 L441.38,394.7 L441.71,394.7 L442.03,394.7 L442.35,394.7 L442.67,394.7 L442.99,394.7 L443.31,394.7 L443.63,394.7 L443.96,394.7 L444.28,394.7 L444.6,394.7 L444.92,394.7 L445.24,394.7 L445.56,394.7 L445.88,394.7 L446.21,394.7 L446.53,394.7 L446.85,394.7 L447.17,394.7 L447.49,394.7 L447.81,394.7 L448.14,394.7 L448.46,394.7 L448.78,394.7 L449.1,394.7 L449.42,394.7 L449.74,394.7 L450.06,394.7 L450.39,394.7 L450.71,394.7 L451.03,394.7 L451.35,394.7 L451.67,394.7 L451.99,394.7 L452.31,394.7 L452.64,394.7 L452.96,394.7 L453.28,394.7 L453.6,394.7 L453.92,394.7 L454.24,394.7 L454.57,394.7 L454.89,394.7 L455.21,394.7 L455.53,394.7 L455.85,394.7 L456.17,394.7 L456.49,394.7 L456.82,394.7 L457.14,394.7 L457.46,394.7 L457.78,394.7 L458.1,394.7 L458.42,394.7 L458.75,394.7 L459.07,394.7 L459.39,394.7 L459.71,394.7 L460.03,394.7 L460.35,394.7 L460.67,394.7 L461,394.7 L461.32,394.7 L461.64,394.7 L461.96,394.7 L462.28,394.7 L462.6,394.7 L462.92,394.7 L463.25,394.7 L463.57,394.7 L463.89,394.7 L464.21,394.7 L464.53,394.7 L464.85,394.7 L465.17,394.7 L465.5,394.7 L465.82,394.7 L466.14,394.7 L466.46,394.7 L466.78,394.7 L467.1,394.7 L467.43,394.7 L467.75,394.7 L468.07,394.7 L468.39,394.7 L468.71,394.7 L469.03,394.7 L469.35,394.7 L469.68,394.7 L470,394.7 L470.32,394.7 L470.64,394.7 L470.96,394.7 L471.28,394.7 L471.61,394.7 L471.93,394.7 L472.25,394.7 L472.57,394.7 L472.89,394.7 L473.21,394.7 L473.53,394.7 L473.86,394.7 L474.18,394.7 L474.5,394.7 L474.82,394.7 L475.14,394.7 L475.46,394.7 L475.78,394.7 L476.11,394.7 L476.43,394.7 L476.75,394.7 L477.07,394.7 L477.39,394.7 L477.71,394.7 L478.03,394.7 L478.36,394.7 L478.68,394.7 L479,394.7 L479.32,394.7 L479.64,394.7 L479.96,394.7 L480.29,394.7 L480.61,394.7 L480.93,394.7 L481.25,394.7" stroke="#F1921A" stroke-width="1.25" fill="none"/>
<path d="M352.65,292.8 V307.2 M350.15,292.8 H355.15 M350.15,307.2 H355.15" stroke="#1B3D6B" stroke-width="1.15" stroke-opacity="0.85" fill="none"/>
<path d="M384.8,287.6 V300.4 M382.3,287.6 H387.3 M382.3,300.4 H387.3" stroke="#1B3D6B" stroke-width="1.15" stroke-opacity="0.85" fill="none"/>
<path d="M320.5,257.4 V321 M318,257.4 H323 M318,321 H323" stroke="#F1921A" stroke-width="1.15" stroke-opacity="0.85" fill="none"/>
<path d="M352.65,274 V288.1 M350.15,274 H355.15 M350.15,288.1 H355.15" stroke="#F1921A" stroke-width="1.15" stroke-opacity="0.85" fill="none"/>
<path d="M320.5,300.42 L323.3,306.02 L317.7,306.02 Z" fill="#1B3D6B"/>
<path d="M352.65,297.32 L355.45,302.92 L349.85,302.92 Z" fill="#1B3D6B"/>
<path d="M384.8,290.92 L387.6,296.52 L382,296.52 Z" fill="#1B3D6B"/>
<path d="M416.95,390.92 L419.75,396.52 L414.15,396.52 Z" fill="#1B3D6B"/>
<path d="M449.1,390.92 L451.9,396.52 L446.3,396.52 Z" fill="#1B3D6B"/>
<path d="M481.25,390.92 L484.05,396.52 L478.45,396.52 Z" fill="#1B3D6B"/>
<rect x="317.6" y="285.2" width="5.8" height="5.8" fill="#F1921A"/>
<rect x="349.75" y="278.5" width="5.8" height="5.8" fill="#F1921A"/>
<rect x="381.9" y="348.1" width="5.8" height="5.8" fill="#F1921A"/>
<rect x="414.05" y="391.1" width="5.8" height="5.8" fill="#F1921A"/>
<rect x="446.2" y="391.1" width="5.8" height="5.8" fill="#F1921A"/>
<rect x="478.35" y="391.1" width="5.8" height="5.8" fill="#F1921A"/>
<line x1="438" y1="273.8" x2="451.5" y2="273.8" stroke="#F1921A" stroke-width="1.3"/>
<rect x="441.85" y="270.9" width="5.8" height="5.8" fill="#F1921A"/>
<text x="455" y="276.7" font-size="8.4" fill="#333" textLength="37" lengthAdjust="spacingAndGlyphs">CC-90009</text>
<line x1="438" y1="286.5" x2="451.5" y2="286.5" stroke="#1B3D6B" stroke-width="1.3"/>
<path d="M444.75,283.42 L447.55,289.02 L441.95,289.02 Z" fill="#1B3D6B"/>
<text x="455" y="289.4" font-size="8.4" fill="#333" textLength="26.4" lengthAdjust="spacingAndGlyphs">SJ6986</text></g>
<g><text x="8.75" y="450" font-size="12.2" font-weight="bold" fill="#111" stroke="#111" stroke-width="0.55" textLength="7.4" lengthAdjust="spacingAndGlyphs">E</text>
<text x="145" y="456" font-size="11" fill="#333" text-anchor="middle" textLength="137.8" lengthAdjust="spacingAndGlyphs"><tspan>SJBALL003145, </tspan><tspan font-style="italic">P2RY8-CRLF2</tspan></text>
<text x="145" y="467.7" font-size="11" fill="#333" text-anchor="middle" textLength="65.5" lengthAdjust="spacingAndGlyphs"><tspan font-style="italic">PAX5-ZNF521</tspan></text>
<path d="M48.9,472 V614.4 H243" stroke="#1c1c1c" stroke-width="1.3" fill="none"/>
<line x1="45.6" y1="614.4" x2="48.9" y2="614.4" stroke="#1c1c1c" stroke-width="1.1"/>
<text x="42.6" y="617.4" font-size="10" fill="#333" text-anchor="end" transform="translate(42.6,0) scale(0.86,1) translate(-42.6,0)">0</text>
<line x1="45.6" y1="557.65" x2="48.9" y2="557.65" stroke="#1c1c1c" stroke-width="1.1"/>
<text x="42.6" y="560.65" font-size="10" fill="#333" text-anchor="end" transform="translate(42.6,0) scale(0.86,1) translate(-42.6,0)">50</text>
<line x1="45.6" y1="500.9" x2="48.9" y2="500.9" stroke="#1c1c1c" stroke-width="1.1"/>
<text x="42.6" y="503.9" font-size="10" fill="#333" text-anchor="end" transform="translate(42.6,0) scale(0.86,1) translate(-42.6,0)">100</text>
<line x1="65.5" y1="614.4" x2="65.5" y2="617.4" stroke="#1c1c1c" stroke-width="1.1"/>
<text x="66.1" y="629" font-size="9.4" fill="#333" text-anchor="middle" transform="translate(66.1,0) scale(0.9,1) translate(-66.1,0)">10<tspan font-size="6.6" dy="-3.9">−1</tspan></text>
<line x1="97.65" y1="614.4" x2="97.65" y2="617.4" stroke="#1c1c1c" stroke-width="1.1"/>
<text x="98.25" y="629" font-size="9.4" fill="#333" text-anchor="middle" transform="translate(98.25,0) scale(0.9,1) translate(-98.25,0)">10<tspan font-size="6.6" dy="-3.9">0</tspan></text>
<line x1="129.8" y1="614.4" x2="129.8" y2="617.4" stroke="#1c1c1c" stroke-width="1.1"/>
<text x="130.4" y="629" font-size="9.4" fill="#333" text-anchor="middle" transform="translate(130.4,0) scale(0.9,1) translate(-130.4,0)">10<tspan font-size="6.6" dy="-3.9">1</tspan></text>
<line x1="161.95" y1="614.4" x2="161.95" y2="617.4" stroke="#1c1c1c" stroke-width="1.1"/>
<text x="162.55" y="629" font-size="9.4" fill="#333" text-anchor="middle" transform="translate(162.55,0) scale(0.9,1) translate(-162.55,0)">10<tspan font-size="6.6" dy="-3.9">2</tspan></text>
<line x1="194.1" y1="614.4" x2="194.1" y2="617.4" stroke="#1c1c1c" stroke-width="1.1"/>
<text x="194.7" y="629" font-size="9.4" fill="#333" text-anchor="middle" transform="translate(194.7,0) scale(0.9,1) translate(-194.7,0)">10<tspan font-size="6.6" dy="-3.9">3</tspan></text>
<line x1="226.25" y1="614.4" x2="226.25" y2="617.4" stroke="#1c1c1c" stroke-width="1.1"/>
<text x="226.85" y="629" font-size="9.4" fill="#333" text-anchor="middle" transform="translate(226.85,0) scale(0.9,1) translate(-226.85,0)">10<tspan font-size="6.6" dy="-3.9">4</tspan></text>
<text x="145.95" y="640" font-size="10.4" fill="#333" text-anchor="middle" textLength="70" lengthAdjust="spacingAndGlyphs">Concentration (nM)</text>
<text x="0" y="0" transform="translate(24.5,543.2) rotate(-90)" font-size="9.7" fill="#333" text-anchor="middle" textLength="94" lengthAdjust="spacingAndGlyphs">Relative to vehicle control</text>
<path d="M51.55,557.65 h1.8 M55.62,557.65 h1.8 M59.68,557.65 h1.8 M63.75,557.65 h1.8 M67.82,557.65 h1.8 M71.89,557.65 h1.8 M75.95,557.65 h1.8 M80.02,557.65 h1.8 M84.09,557.65 h1.8 M88.15,557.65 h1.8 M92.22,557.65 h1.8 M96.29,557.65 h1.8 M100.35,557.65 h1.8 M104.42,557.65 h1.8 M108.49,557.65 h1.8 M112.56,557.65 h1.8 M116.62,557.65 h1.8 M120.69,557.65 h1.8 M124.76,557.65 h1.8 M128.82,557.65 h1.8 M132.89,557.65 h1.8 M136.96,557.65 h1.8 M141.02,557.65 h1.8 M145.09,557.65 h1.8 M149.16,557.65 h1.8 M153.23,557.65 h1.8 M157.29,557.65 h1.8 M161.36,557.65 h1.8 M165.43,557.65 h1.8 M169.49,557.65 h1.8 M173.56,557.65 h1.8 M177.63,557.65 h1.8 M181.69,557.65 h1.8 M185.76,557.65 h1.8 M189.83,557.65 h1.8 M193.9,557.65 h1.8 M197.96,557.65 h1.8 M202.03,557.65 h1.8 M206.1,557.65 h1.8 M210.16,557.65 h1.8 M214.23,557.65 h1.8 M218.3,557.65 h1.8 M222.36,557.65 h1.8 M226.43,557.65 h1.8 M230.5,557.65 h1.8 M234.57,557.65 h1.8 M238.63,557.65 h1.8 M242.7,557.65 h1.8" stroke="#3a3a3a" stroke-width="1.6" fill="none"/>
<path d="M65.5,508.5 L65.82,508.5 L66.14,508.5 L66.46,508.5 L66.79,508.5 L67.11,508.5 L67.43,508.5 L67.75,508.5 L68.07,508.5 L68.39,508.5 L68.72,508.5 L69.04,508.5 L69.36,508.5 L69.68,508.5 L70,508.5 L70.32,508.5 L70.64,508.5 L70.97,508.5 L71.29,508.5 L71.61,508.5 L71.93,508.5 L72.25,508.5 L72.57,508.5 L72.89,508.5 L73.22,508.5 L73.54,508.5 L73.86,508.5 L74.18,508.5 L74.5,508.5 L74.82,508.5 L75.14,508.5 L75.47,508.5 L75.79,508.5 L76.11,508.5 L76.43,508.5 L76.75,508.5 L77.07,508.5 L77.4,508.5 L77.72,508.5 L78.04,508.5 L78.36,508.5 L78.68,508.5 L79,508.5 L79.32,508.5 L79.65,508.5 L79.97,508.5 L80.29,508.5 L80.61,508.5 L80.93,508.5 L81.25,508.5 L81.58,508.5 L81.9,508.5 L82.22,508.5 L82.54,508.5 L82.86,508.5 L83.18,508.5 L83.5,508.5 L83.83,508.5 L84.15,508.5 L84.47,508.5 L84.79,508.5 L85.11,508.5 L85.43,508.5 L85.75,508.5 L86.08,508.5 L86.4,508.5 L86.72,508.5 L87.04,508.5 L87.36,508.5 L87.68,508.5 L88,508.5 L88.33,508.5 L88.65,508.5 L88.97,508.5 L89.29,508.5 L89.61,508.5 L89.93,508.5 L90.26,508.5 L90.58,508.5 L90.9,508.5 L91.22,508.5 L91.54,508.5 L91.86,508.5 L92.18,508.5 L92.51,508.5 L92.83,508.5 L93.15,508.5 L93.47,508.5 L93.79,508.5 L94.11,508.5 L94.44,508.5 L94.76,508.5 L95.08,508.5 L95.4,508.5 L95.72,508.5 L96.04,508.5 L96.36,508.5 L96.69,508.5 L97.01,508.5 L97.33,508.5 L97.65,508.5 L97.97,508.5 L98.29,508.5 L98.61,508.5 L98.94,508.5 L99.26,508.5 L99.58,508.5 L99.9,508.5 L100.22,508.5 L100.54,508.5 L100.87,508.5 L101.19,508.5 L101.51,508.5 L101.83,508.5 L102.15,508.5 L102.47,508.5 L102.79,508.5 L103.12,508.5 L103.44,508.5 L103.76,508.5 L104.08,508.5 L104.4,508.5 L104.72,508.5 L105.04,508.5 L105.37,508.5 L105.69,508.5 L106.01,508.5 L106.33,508.5 L106.65,508.5 L106.97,508.5 L107.3,508.5 L107.62,508.5 L107.94,508.5 L108.26,508.5 L108.58,508.5 L108.9,508.5 L109.22,508.5 L109.55,508.5 L109.87,508.5 L110.19,508.5 L110.51,508.5 L110.83,508.5 L111.15,508.5 L111.47,508.5 L111.8,508.5 L112.12,508.5 L112.44,508.5 L112.76,508.5 L113.08,508.5 L113.4,508.5 L113.72,508.5 L114.05,508.5 L114.37,508.5 L114.69,508.5 L115.01,508.5 L115.33,508.5 L115.65,508.5 L115.98,508.5 L116.3,508.5 L116.62,508.5 L116.94,508.5 L117.26,508.5 L117.58,508.5 L117.9,508.5 L118.23,508.5 L118.55,508.5 L118.87,508.5 L119.19,508.5 L119.51,508.5 L119.83,508.5 L120.16,508.5 L120.48,508.5 L120.8,508.5 L121.12,508.5 L121.44,508.5 L121.76,508.5 L122.08,508.5 L122.41,508.5 L122.73,508.5 L123.05,508.5 L123.37,508.5 L123.69,508.5 L124.01,508.5 L124.33,508.5 L124.66,508.5 L124.98,508.5 L125.3,508.5 L125.62,508.5 L125.94,508.5 L126.26,508.5 L126.58,508.5 L126.91,508.5 L127.23,508.5 L127.55,508.5 L127.87,508.5 L128.19,508.5 L128.51,508.5 L128.84,508.5 L129.16,508.5 L129.48,508.5 L129.8,508.5 L130.12,508.5 L130.44,508.5 L130.76,508.5 L131.09,508.5 L131.41,508.5 L131.73,508.5 L132.05,508.5 L132.37,508.5 L132.69,508.5 L133.01,508.5 L133.34,508.5 L133.66,508.5 L133.98,508.5 L134.3,508.5 L134.62,508.5 L134.94,508.5 L135.27,508.5 L135.59,508.5 L135.91,508.5 L136.23,508.5 L136.55,508.5 L136.87,508.5 L137.19,508.5 L137.52,508.5 L137.84,508.5 L138.16,508.5 L138.48,508.5 L138.8,508.5 L139.12,508.5 L139.44,508.5 L139.77,508.5 L140.09,508.5 L140.41,508.5 L140.73,508.5 L141.05,508.5 L141.37,508.5 L141.7,508.5 L142.02,508.5 L142.34,508.5 L142.66,508.5 L142.98,508.51 L143.3,508.51 L143.62,508.51 L143.95,508.51 L144.27,508.51 L144.59,508.51 L144.91,508.51 L145.23,508.51 L145.55,508.51 L145.88,508.51 L146.2,508.51 L146.52,508.52 L146.84,508.52 L147.16,508.53 L147.48,508.53 L147.8,508.54 L148.13,508.56 L148.45,508.57 L148.77,508.59 L149.09,508.62 L149.41,508.66 L149.73,508.71 L150.05,508.77 L150.38,508.86 L150.7,508.97 L151.02,509.12 L151.34,509.32 L151.66,509.57 L151.98,509.91 L152.31,510.35 L152.63,510.92 L152.95,511.66 L153.27,512.63 L153.59,513.88 L153.91,515.48 L154.23,517.51 L154.56,520.06 L154.88,523.22 L155.2,527.09 L155.52,531.7 L155.84,537.09 L156.16,543.21 L156.48,549.94 L156.81,557.07 L157.13,564.38 L157.45,571.57 L157.77,578.39 L158.09,584.64 L158.41,590.18 L158.74,594.96 L159.06,598.97 L159.38,602.27 L159.7,604.93 L160.02,607.06 L160.34,608.74 L160.66,610.05 L160.99,611.07 L161.31,611.85 L161.63,612.46 L161.95,612.92 L162.27,613.27 L162.59,613.54 L162.91,613.75 L163.24,613.9 L163.56,614.02 L163.88,614.11 L164.2,614.18 L164.52,614.24 L164.84,614.28 L165.16,614.31 L165.49,614.33 L165.81,614.35 L166.13,614.36 L166.45,614.37 L166.77,614.38 L167.09,614.38 L167.42,614.39 L167.74,614.39 L168.06,614.39 L168.38,614.39 L168.7,614.4 L169.02,614.4 L169.34,614.4 L169.67,614.4 L169.99,614.4 L170.31,614.4 L170.63,614.4 L170.95,614.4 L171.27,614.4 L171.59,614.4 L171.92,614.4 L172.24,614.4 L172.56,614.4 L172.88,614.4 L173.2,614.4 L173.52,614.4 L173.85,614.4 L174.17,614.4 L174.49,614.4 L174.81,614.4 L175.13,614.4 L175.45,614.4 L175.77,614.4 L176.1,614.4 L176.42,614.4 L176.74,614.4 L177.06,614.4 L177.38,614.4 L177.7,614.4 L178.02,614.4 L178.35,614.4 L178.67,614.4 L178.99,614.4 L179.31,614.4 L179.63,614.4 L179.95,614.4 L180.28,614.4 L180.6,614.4 L180.92,614.4 L181.24,614.4 L181.56,614.4 L181.88,614.4 L182.2,614.4 L182.53,614.4 L182.85,614.4 L183.17,614.4 L183.49,614.4 L183.81,614.4 L184.13,614.4 L184.45,614.4 L184.78,614.4 L185.1,614.4 L185.42,614.4 L185.74,614.4 L186.06,614.4 L186.38,614.4 L186.71,614.4 L187.03,614.4 L187.35,614.4 L187.67,614.4 L187.99,614.4 L188.31,614.4 L188.63,614.4 L188.96,614.4 L189.28,614.4 L189.6,614.4 L189.92,614.4 L190.24,614.4 L190.56,614.4 L190.88,614.4 L191.21,614.4 L191.53,614.4 L191.85,614.4 L192.17,614.4 L192.49,614.4 L192.81,614.4 L193.14,614.4 L193.46,614.4 L193.78,614.4 L194.1,614.4 L194.42,614.4 L194.74,614.4 L195.06,614.4 L195.39,614.4 L195.71,614.4 L196.03,614.4 L196.35,614.4 L196.67,614.4 L196.99,614.4 L197.31,614.4 L197.64,614.4 L197.96,614.4 L198.28,614.4 L198.6,614.4 L198.92,614.4 L199.24,614.4 L199.57,614.4 L199.89,614.4 L200.21,614.4 L200.53,614.4 L200.85,614.4 L201.17,614.4 L201.49,614.4 L201.82,614.4 L202.14,614.4 L202.46,614.4 L202.78,614.4 L203.1,614.4 L203.42,614.4 L203.74,614.4 L204.07,614.4 L204.39,614.4 L204.71,614.4 L205.03,614.4 L205.35,614.4 L205.67,614.4 L206,614.4 L206.32,614.4 L206.64,614.4 L206.96,614.4 L207.28,614.4 L207.6,614.4 L207.92,614.4 L208.25,614.4 L208.57,614.4 L208.89,614.4 L209.21,614.4 L209.53,614.4 L209.85,614.4 L210.17,614.4 L210.5,614.4 L210.82,614.4 L211.14,614.4 L211.46,614.4 L211.78,614.4 L212.1,614.4 L212.43,614.4 L212.75,614.4 L213.07,614.4 L213.39,614.4 L213.71,614.4 L214.03,614.4 L214.35,614.4 L214.68,614.4 L215,614.4 L215.32,614.4 L215.64,614.4 L215.96,614.4 L216.28,614.4 L216.6,614.4 L216.93,614.4 L217.25,614.4 L217.57,614.4 L217.89,614.4 L218.21,614.4 L218.53,614.4 L218.86,614.4 L219.18,614.4 L219.5,614.4 L219.82,614.4 L220.14,614.4 L220.46,614.4 L220.78,614.4 L221.11,614.4 L221.43,614.4 L221.75,614.4 L222.07,614.4 L222.39,614.4 L222.71,614.4 L223.03,614.4 L223.36,614.4 L223.68,614.4 L224,614.4 L224.32,614.4 L224.64,614.4 L224.96,614.4 L225.29,614.4 L225.61,614.4 L225.93,614.4 L226.25,614.4" stroke="#1B3D6B" stroke-width="1.25" fill="none"/>
<path d="M65.5,507.82 L65.82,507.82 L66.14,507.82 L66.46,507.82 L66.79,507.82 L67.11,507.82 L67.43,507.82 L67.75,507.82 L68.07,507.82 L68.39,507.82 L68.72,507.82 L69.04,507.82 L69.36,507.82 L69.68,507.82 L70,507.82 L70.32,507.82 L70.64,507.82 L70.97,507.82 L71.29,507.82 L71.61,507.82 L71.93,507.82 L72.25,507.82 L72.57,507.82 L72.89,507.82 L73.22,507.82 L73.54,507.82 L73.86,507.82 L74.18,507.82 L74.5,507.82 L74.82,507.82 L75.14,507.82 L75.47,507.82 L75.79,507.82 L76.11,507.82 L76.43,507.82 L76.75,507.82 L77.07,507.82 L77.4,507.82 L77.72,507.82 L78.04,507.82 L78.36,507.82 L78.68,507.82 L79,507.82 L79.32,507.82 L79.65,507.82 L79.97,507.82 L80.29,507.82 L80.61,507.82 L80.93,507.82 L81.25,507.82 L81.58,507.82 L81.9,507.82 L82.22,507.82 L82.54,507.82 L82.86,507.82 L83.18,507.82 L83.5,507.82 L83.83,507.82 L84.15,507.82 L84.47,507.82 L84.79,507.82 L85.11,507.82 L85.43,507.82 L85.75,507.82 L86.08,507.82 L86.4,507.82 L86.72,507.82 L87.04,507.82 L87.36,507.82 L87.68,507.82 L88,507.82 L88.33,507.82 L88.65,507.82 L88.97,507.82 L89.29,507.82 L89.61,507.82 L89.93,507.82 L90.26,507.82 L90.58,507.82 L90.9,507.82 L91.22,507.82 L91.54,507.82 L91.86,507.82 L92.18,507.82 L92.51,507.82 L92.83,507.82 L93.15,507.82 L93.47,507.82 L93.79,507.82 L94.11,507.82 L94.44,507.82 L94.76,507.82 L95.08,507.82 L95.4,507.82 L95.72,507.82 L96.04,507.82 L96.36,507.82 L96.69,507.82 L97.01,507.82 L97.33,507.82 L97.65,507.82 L97.97,507.82 L98.29,507.82 L98.61,507.82 L98.94,507.82 L99.26,507.82 L99.58,507.82 L99.9,507.82 L100.22,507.82 L100.54,507.82 L100.87,507.82 L101.19,507.82 L101.51,507.82 L101.83,507.82 L102.15,507.83 L102.47,507.83 L102.79,507.83 L103.12,507.83 L103.44,507.83 L103.76,507.83 L104.08,507.83 L104.4,507.83 L104.72,507.83 L105.04,507.83 L105.37,507.83 L105.69,507.83 L106.01,507.83 L106.33,507.83 L106.65,507.83 L106.97,507.83 L107.3,507.84 L107.62,507.84 L107.94,507.84 L108.26,507.84 L108.58,507.85 L108.9,507.85 L109.22,507.85 L109.55,507.86 L109.87,507.86 L110.19,507.87 L110.51,507.87 L110.83,507.88 L111.15,507.89 L111.47,507.89 L111.8,507.9 L112.12,507.91 L112.44,507.93 L112.76,507.94 L113.08,507.96 L113.4,507.98 L113.72,508 L114.05,508.02 L114.37,508.05 L114.69,508.08 L115.01,508.12 L115.33,508.16 L115.65,508.21 L115.98,508.26 L116.3,508.32 L116.62,508.39 L116.94,508.47 L117.26,508.56 L117.58,508.67 L117.9,508.79 L118.23,508.92 L118.55,509.07 L118.87,509.24 L119.19,509.44 L119.51,509.66 L119.83,509.91 L120.16,510.2 L120.48,510.53 L120.8,510.9 L121.12,511.31 L121.44,511.78 L121.76,512.31 L122.08,512.91 L122.41,513.59 L122.73,514.35 L123.05,515.2 L123.37,516.15 L123.69,517.22 L124.01,518.41 L124.33,519.73 L124.66,521.19 L124.98,522.8 L125.3,524.57 L125.62,526.5 L125.94,528.61 L126.26,530.9 L126.58,533.36 L126.91,535.99 L127.23,538.79 L127.55,541.76 L127.87,544.86 L128.19,548.09 L128.51,551.43 L128.84,554.85 L129.16,558.32 L129.48,561.81 L129.8,565.3 L130.12,568.75 L130.44,572.14 L130.76,575.44 L131.09,578.62 L131.41,581.67 L131.73,584.57 L132.05,587.31 L132.37,589.87 L132.69,592.26 L133.01,594.48 L133.34,596.52 L133.66,598.38 L133.98,600.09 L134.3,601.64 L134.62,603.04 L134.94,604.31 L135.27,605.44 L135.59,606.46 L135.91,607.37 L136.23,608.19 L136.55,608.91 L136.87,609.56 L137.19,610.13 L137.52,610.64 L137.84,611.08 L138.16,611.48 L138.48,611.83 L138.8,612.14 L139.12,612.41 L139.44,612.65 L139.77,612.87 L140.09,613.05 L140.41,613.22 L140.73,613.36 L141.05,613.49 L141.37,613.6 L141.7,613.7 L142.02,613.78 L142.34,613.86 L142.66,613.92 L142.98,613.98 L143.3,614.03 L143.62,614.08 L143.95,614.12 L144.27,614.15 L144.59,614.18 L144.91,614.21 L145.23,614.23 L145.55,614.25 L145.88,614.27 L146.2,614.29 L146.52,614.3 L146.84,614.31 L147.16,614.32 L147.48,614.33 L147.8,614.34 L148.13,614.35 L148.45,614.36 L148.77,614.36 L149.09,614.37 L149.41,614.37 L149.73,614.37 L150.05,614.38 L150.38,614.38 L150.7,614.38 L151.02,614.38 L151.34,614.39 L151.66,614.39 L151.98,614.39 L152.31,614.39 L152.63,614.39 L152.95,614.39 L153.27,614.39 L153.59,614.39 L153.91,614.4 L154.23,614.4 L154.56,614.4 L154.88,614.4 L155.2,614.4 L155.52,614.4 L155.84,614.4 L156.16,614.4 L156.48,614.4 L156.81,614.4 L157.13,614.4 L157.45,614.4 L157.77,614.4 L158.09,614.4 L158.41,614.4 L158.74,614.4 L159.06,614.4 L159.38,614.4 L159.7,614.4 L160.02,614.4 L160.34,614.4 L160.66,614.4 L160.99,614.4 L161.31,614.4 L161.63,614.4 L161.95,614.4 L162.27,614.4 L162.59,614.4 L162.91,614.4 L163.24,614.4 L163.56,614.4 L163.88,614.4 L164.2,614.4 L164.52,614.4 L164.84,614.4 L165.16,614.4 L165.49,614.4 L165.81,614.4 L166.13,614.4 L166.45,614.4 L166.77,614.4 L167.09,614.4 L167.42,614.4 L167.74,614.4 L168.06,614.4 L168.38,614.4 L168.7,614.4 L169.02,614.4 L169.34,614.4 L169.67,614.4 L169.99,614.4 L170.31,614.4 L170.63,614.4 L170.95,614.4 L171.27,614.4 L171.59,614.4 L171.92,614.4 L172.24,614.4 L172.56,614.4 L172.88,614.4 L173.2,614.4 L173.52,614.4 L173.85,614.4 L174.17,614.4 L174.49,614.4 L174.81,614.4 L175.13,614.4 L175.45,614.4 L175.77,614.4 L176.1,614.4 L176.42,614.4 L176.74,614.4 L177.06,614.4 L177.38,614.4 L177.7,614.4 L178.02,614.4 L178.35,614.4 L178.67,614.4 L178.99,614.4 L179.31,614.4 L179.63,614.4 L179.95,614.4 L180.28,614.4 L180.6,614.4 L180.92,614.4 L181.24,614.4 L181.56,614.4 L181.88,614.4 L182.2,614.4 L182.53,614.4 L182.85,614.4 L183.17,614.4 L183.49,614.4 L183.81,614.4 L184.13,614.4 L184.45,614.4 L184.78,614.4 L185.1,614.4 L185.42,614.4 L185.74,614.4 L186.06,614.4 L186.38,614.4 L186.71,614.4 L187.03,614.4 L187.35,614.4 L187.67,614.4 L187.99,614.4 L188.31,614.4 L188.63,614.4 L188.96,614.4 L189.28,614.4 L189.6,614.4 L189.92,614.4 L190.24,614.4 L190.56,614.4 L190.88,614.4 L191.21,614.4 L191.53,614.4 L191.85,614.4 L192.17,614.4 L192.49,614.4 L192.81,614.4 L193.14,614.4 L193.46,614.4 L193.78,614.4 L194.1,614.4 L194.42,614.4 L194.74,614.4 L195.06,614.4 L195.39,614.4 L195.71,614.4 L196.03,614.4 L196.35,614.4 L196.67,614.4 L196.99,614.4 L197.31,614.4 L197.64,614.4 L197.96,614.4 L198.28,614.4 L198.6,614.4 L198.92,614.4 L199.24,614.4 L199.57,614.4 L199.89,614.4 L200.21,614.4 L200.53,614.4 L200.85,614.4 L201.17,614.4 L201.49,614.4 L201.82,614.4 L202.14,614.4 L202.46,614.4 L202.78,614.4 L203.1,614.4 L203.42,614.4 L203.74,614.4 L204.07,614.4 L204.39,614.4 L204.71,614.4 L205.03,614.4 L205.35,614.4 L205.67,614.4 L206,614.4 L206.32,614.4 L206.64,614.4 L206.96,614.4 L207.28,614.4 L207.6,614.4 L207.92,614.4 L208.25,614.4 L208.57,614.4 L208.89,614.4 L209.21,614.4 L209.53,614.4 L209.85,614.4 L210.17,614.4 L210.5,614.4 L210.82,614.4 L211.14,614.4 L211.46,614.4 L211.78,614.4 L212.1,614.4 L212.43,614.4 L212.75,614.4 L213.07,614.4 L213.39,614.4 L213.71,614.4 L214.03,614.4 L214.35,614.4 L214.68,614.4 L215,614.4 L215.32,614.4 L215.64,614.4 L215.96,614.4 L216.28,614.4 L216.6,614.4 L216.93,614.4 L217.25,614.4 L217.57,614.4 L217.89,614.4 L218.21,614.4 L218.53,614.4 L218.86,614.4 L219.18,614.4 L219.5,614.4 L219.82,614.4 L220.14,614.4 L220.46,614.4 L220.78,614.4 L221.11,614.4 L221.43,614.4 L221.75,614.4 L222.07,614.4 L222.39,614.4 L222.71,614.4 L223.03,614.4 L223.36,614.4 L223.68,614.4 L224,614.4 L224.32,614.4 L224.64,614.4 L224.96,614.4 L225.29,614.4 L225.61,614.4 L225.93,614.4 L226.25,614.4" stroke="#F1921A" stroke-width="1.25" fill="none"/>
<path d="M65.5,498.5 V546.5 M63,498.5 H68 M63,546.5 H68" stroke="#1B3D6B" stroke-width="1.15" stroke-opacity="0.85" fill="none"/>
<path d="M97.65,500.7 V518.1 M95.15,500.7 H100.15 M95.15,518.1 H100.15" stroke="#1B3D6B" stroke-width="1.15" stroke-opacity="0.85" fill="none"/>
<path d="M129.8,480.4 V509.6 M127.3,480.4 H132.3 M127.3,509.6 H132.3" stroke="#1B3D6B" stroke-width="1.15" stroke-opacity="0.85" fill="none"/>
<path d="M129.8,550 V563.6 M127.3,550 H132.3 M127.3,563.6 H132.3" stroke="#F1921A" stroke-width="1.15" stroke-opacity="0.85" fill="none"/>
<path d="M65.5,520.52 L68.3,526.12 L62.7,526.12 Z" fill="#1B3D6B"/>
<path d="M97.65,506.32 L100.45,511.92 L94.85,511.92 Z" fill="#1B3D6B"/>
<path d="M129.8,492.92 L132.6,498.52 L127,498.52 Z" fill="#1B3D6B"/>
<path d="M161.95,610.92 L164.75,616.52 L159.15,616.52 Z" fill="#1B3D6B"/>
<path d="M194.1,610.92 L196.9,616.52 L191.3,616.52 Z" fill="#1B3D6B"/>
<path d="M226.25,610.92 L229.05,616.52 L223.45,616.52 Z" fill="#1B3D6B"/>
<rect x="62.6" y="511.2" width="5.8" height="5.8" fill="#F1921A"/>
<rect x="94.75" y="497.4" width="5.8" height="5.8" fill="#F1921A"/>
<rect x="126.9" y="554.1" width="5.8" height="5.8" fill="#F1921A"/>
<rect x="159.05" y="611.1" width="5.8" height="5.8" fill="#F1921A"/>
<rect x="191.2" y="611.1" width="5.8" height="5.8" fill="#F1921A"/>
<rect x="223.35" y="611.1" width="5.8" height="5.8" fill="#F1921A"/>
<line x1="183" y1="498.8" x2="196.5" y2="498.8" stroke="#F1921A" stroke-width="1.3"/>
<rect x="186.85" y="495.9" width="5.8" height="5.8" fill="#F1921A"/>
<text x="199.5" y="501.7" font-size="8.4" fill="#333" textLength="37" lengthAdjust="spacingAndGlyphs">CC-90009</text>
<line x1="183" y1="511.5" x2="196.5" y2="511.5" stroke="#1B3D6B" stroke-width="1.3"/>
<path d="M189.75,508.42 L192.55,514.02 L186.95,514.02 Z" fill="#1B3D6B"/>
<text x="199.5" y="514.4" font-size="8.4" fill="#333" textLength="26.4" lengthAdjust="spacingAndGlyphs">SJ6986</text></g>
<g><text x="265" y="450" font-size="12.2" font-weight="bold" fill="#111" stroke="#111" stroke-width="0.55" textLength="6.6" lengthAdjust="spacingAndGlyphs">F</text>
<text x="401" y="457.9" font-size="11" fill="#333" text-anchor="middle" textLength="127.6" lengthAdjust="spacingAndGlyphs"><tspan>SJBALL047370, </tspan><tspan font-style="italic">IGH-CRLF2</tspan></text>
<text x="401" y="470.5" font-size="11" fill="#333" text-anchor="middle" textLength="56" lengthAdjust="spacingAndGlyphs"><tspan>KRAS-G12D</tspan></text>
<path d="M304.3,474.5 V614.6 H498.75" stroke="#1c1c1c" stroke-width="1.3" fill="none"/>
<line x1="301" y1="614.6" x2="304.3" y2="614.6" stroke="#1c1c1c" stroke-width="1.1"/>
<text x="298" y="617.6" font-size="10" fill="#333" text-anchor="end" transform="translate(298,0) scale(0.86,1) translate(-298,0)">0</text>
<line x1="301" y1="558.6" x2="304.3" y2="558.6" stroke="#1c1c1c" stroke-width="1.1"/>
<text x="298" y="561.6" font-size="10" fill="#333" text-anchor="end" transform="translate(298,0) scale(0.86,1) translate(-298,0)">50</text>
<line x1="301" y1="502.6" x2="304.3" y2="502.6" stroke="#1c1c1c" stroke-width="1.1"/>
<text x="298" y="505.6" font-size="10" fill="#333" text-anchor="end" transform="translate(298,0) scale(0.86,1) translate(-298,0)">100</text>
<line x1="320.5" y1="614.6" x2="320.5" y2="617.6" stroke="#1c1c1c" stroke-width="1.1"/>
<text x="321.1" y="629.2" font-size="9.4" fill="#333" text-anchor="middle" transform="translate(321.1,0) scale(0.9,1) translate(-321.1,0)">10<tspan font-size="6.6" dy="-3.9">−1</tspan></text>
<line x1="352.8" y1="614.6" x2="352.8" y2="617.6" stroke="#1c1c1c" stroke-width="1.1"/>
<text x="353.4" y="629.2" font-size="9.4" fill="#333" text-anchor="middle" transform="translate(353.4,0) scale(0.9,1) translate(-353.4,0)">10<tspan font-size="6.6" dy="-3.9">0</tspan></text>
<line x1="385.1" y1="614.6" x2="385.1" y2="617.6" stroke="#1c1c1c" stroke-width="1.1"/>
<text x="385.7" y="629.2" font-size="9.4" fill="#333" text-anchor="middle" transform="translate(385.7,0) scale(0.9,1) translate(-385.7,0)">10<tspan font-size="6.6" dy="-3.9">1</tspan></text>
<line x1="417.4" y1="614.6" x2="417.4" y2="617.6" stroke="#1c1c1c" stroke-width="1.1"/>
<text x="418" y="629.2" font-size="9.4" fill="#333" text-anchor="middle" transform="translate(418,0) scale(0.9,1) translate(-418,0)">10<tspan font-size="6.6" dy="-3.9">2</tspan></text>
<line x1="449.7" y1="614.6" x2="449.7" y2="617.6" stroke="#1c1c1c" stroke-width="1.1"/>
<text x="450.3" y="629.2" font-size="9.4" fill="#333" text-anchor="middle" transform="translate(450.3,0) scale(0.9,1) translate(-450.3,0)">10<tspan font-size="6.6" dy="-3.9">3</tspan></text>
<line x1="482" y1="614.6" x2="482" y2="617.6" stroke="#1c1c1c" stroke-width="1.1"/>
<text x="482.6" y="629.2" font-size="9.4" fill="#333" text-anchor="middle" transform="translate(482.6,0) scale(0.9,1) translate(-482.6,0)">10<tspan font-size="6.6" dy="-3.9">4</tspan></text>
<text x="401.52" y="640.2" font-size="10.4" fill="#333" text-anchor="middle" textLength="70" lengthAdjust="spacingAndGlyphs">Concentration (nM)</text>
<text x="0" y="0" transform="translate(279.9,544.55) rotate(-90)" font-size="9.7" fill="#333" text-anchor="middle" textLength="94" lengthAdjust="spacingAndGlyphs">Relative to vehicle control</text>
<path d="M306.95,558.6 h1.8 M311.02,558.6 h1.8 M315.1,558.6 h1.8 M319.17,558.6 h1.8 M323.25,558.6 h1.8 M327.32,558.6 h1.8 M331.4,558.6 h1.8 M335.47,558.6 h1.8 M339.55,558.6 h1.8 M343.62,558.6 h1.8 M347.69,558.6 h1.8 M351.77,558.6 h1.8 M355.84,558.6 h1.8 M359.92,558.6 h1.8 M363.99,558.6 h1.8 M368.07,558.6 h1.8 M372.14,558.6 h1.8 M376.22,558.6 h1.8 M380.29,558.6 h1.8 M384.36,558.6 h1.8 M388.44,558.6 h1.8 M392.51,558.6 h1.8 M396.59,558.6 h1.8 M400.66,558.6 h1.8 M404.74,558.6 h1.8 M408.81,558.6 h1.8 M412.89,558.6 h1.8 M416.96,558.6 h1.8 M421.04,558.6 h1.8 M425.11,558.6 h1.8 M429.18,558.6 h1.8 M433.26,558.6 h1.8 M437.33,558.6 h1.8 M441.41,558.6 h1.8 M445.48,558.6 h1.8 M449.56,558.6 h1.8 M453.63,558.6 h1.8 M457.71,558.6 h1.8 M461.78,558.6 h1.8 M465.85,558.6 h1.8 M469.93,558.6 h1.8 M474,558.6 h1.8 M478.08,558.6 h1.8 M482.15,558.6 h1.8 M486.23,558.6 h1.8 M490.3,558.6 h1.8 M494.38,558.6 h1.8 M498.45,558.6 h1.8" stroke="#3a3a3a" stroke-width="1.6" fill="none"/>
<path d="M320.5,497.22 L320.82,497.22 L321.15,497.22 L321.47,497.22 L321.79,497.22 L322.12,497.22 L322.44,497.22 L322.76,497.22 L323.08,497.22 L323.41,497.22 L323.73,497.22 L324.05,497.22 L324.38,497.22 L324.7,497.22 L325.02,497.22 L325.35,497.22 L325.67,497.22 L325.99,497.22 L326.31,497.22 L326.64,497.22 L326.96,497.22 L327.28,497.22 L327.61,497.22 L327.93,497.22 L328.25,497.22 L328.57,497.22 L328.9,497.22 L329.22,497.22 L329.54,497.22 L329.87,497.22 L330.19,497.22 L330.51,497.22 L330.84,497.22 L331.16,497.22 L331.48,497.22 L331.81,497.22 L332.13,497.22 L332.45,497.22 L332.77,497.22 L333.1,497.22 L333.42,497.22 L333.74,497.22 L334.07,497.22 L334.39,497.22 L334.71,497.22 L335.03,497.22 L335.36,497.22 L335.68,497.22 L336,497.22 L336.33,497.22 L336.65,497.22 L336.97,497.22 L337.3,497.22 L337.62,497.22 L337.94,497.22 L338.26,497.22 L338.59,497.22 L338.91,497.22 L339.23,497.22 L339.56,497.22 L339.88,497.22 L340.2,497.22 L340.53,497.22 L340.85,497.22 L341.17,497.22 L341.5,497.22 L341.82,497.22 L342.14,497.22 L342.46,497.22 L342.79,497.22 L343.11,497.22 L343.43,497.22 L343.76,497.22 L344.08,497.22 L344.4,497.22 L344.73,497.22 L345.05,497.22 L345.37,497.22 L345.69,497.22 L346.02,497.22 L346.34,497.22 L346.66,497.22 L346.99,497.22 L347.31,497.22 L347.63,497.22 L347.95,497.22 L348.28,497.22 L348.6,497.22 L348.92,497.22 L349.25,497.22 L349.57,497.22 L349.89,497.22 L350.22,497.22 L350.54,497.22 L350.86,497.23 L351.19,497.23 L351.51,497.23 L351.83,497.23 L352.15,497.23 L352.48,497.23 L352.8,497.23 L353.12,497.23 L353.45,497.23 L353.77,497.23 L354.09,497.23 L354.42,497.23 L354.74,497.23 L355.06,497.23 L355.38,497.23 L355.71,497.23 L356.03,497.23 L356.35,497.23 L356.68,497.23 L357,497.23 L357.32,497.23 L357.64,497.24 L357.97,497.24 L358.29,497.24 L358.61,497.24 L358.94,497.24 L359.26,497.25 L359.58,497.25 L359.91,497.25 L360.23,497.25 L360.55,497.26 L360.88,497.26 L361.2,497.27 L361.52,497.27 L361.84,497.28 L362.17,497.28 L362.49,497.29 L362.81,497.3 L363.14,497.31 L363.46,497.32 L363.78,497.33 L364.11,497.34 L364.43,497.36 L364.75,497.37 L365.07,497.39 L365.4,497.41 L365.72,497.43 L366.04,497.46 L366.37,497.49 L366.69,497.52 L367.01,497.55 L367.33,497.59 L367.66,497.64 L367.98,497.69 L368.3,497.74 L368.63,497.81 L368.95,497.88 L369.27,497.95 L369.6,498.04 L369.92,498.14 L370.24,498.25 L370.56,498.37 L370.89,498.51 L371.21,498.66 L371.53,498.83 L371.86,499.02 L372.18,499.24 L372.5,499.47 L372.83,499.74 L373.15,500.04 L373.47,500.37 L373.8,500.73 L374.12,501.14 L374.44,501.6 L374.76,502.1 L375.09,502.66 L375.41,503.29 L375.73,503.98 L376.06,504.74 L376.38,505.58 L376.7,506.51 L377.02,507.52 L377.35,508.64 L377.67,509.87 L377.99,511.21 L378.32,512.67 L378.64,514.26 L378.96,515.98 L379.29,517.83 L379.61,519.83 L379.93,521.97 L380.25,524.25 L380.58,526.68 L380.9,529.24 L381.22,531.93 L381.55,534.75 L381.87,537.68 L382.19,540.71 L382.52,543.82 L382.84,547 L383.16,550.22 L383.49,553.48 L383.81,556.74 L384.13,559.98 L384.45,563.19 L384.78,566.35 L385.1,569.43 L385.42,572.42 L385.75,575.31 L386.07,578.07 L386.39,580.71 L386.71,583.22 L387.04,585.59 L387.36,587.81 L387.68,589.9 L388.01,591.84 L388.33,593.64 L388.65,595.3 L388.98,596.84 L389.3,598.25 L389.62,599.55 L389.94,600.73 L390.27,601.81 L390.59,602.79 L390.91,603.68 L391.24,604.49 L391.56,605.22 L391.88,605.88 L392.21,606.48 L392.53,607.02 L392.85,607.5 L393.18,607.94 L393.5,608.33 L393.82,608.68 L394.14,609 L394.47,609.28 L394.79,609.54 L395.11,609.76 L395.44,609.97 L395.76,610.15 L396.08,610.31 L396.4,610.46 L396.73,610.59 L397.05,610.71 L397.37,610.81 L397.7,610.91 L398.02,610.99 L398.34,611.07 L398.67,611.13 L398.99,611.19 L399.31,611.25 L399.63,611.29 L399.96,611.34 L400.28,611.37 L400.6,611.41 L400.93,611.44 L401.25,611.46 L401.57,611.49 L401.9,611.51 L402.22,611.53 L402.54,611.55 L402.87,611.56 L403.19,611.57 L403.51,611.59 L403.83,611.6 L404.16,611.61 L404.48,611.62 L404.8,611.62 L405.13,611.63 L405.45,611.64 L405.77,611.64 L406.09,611.65 L406.42,611.65 L406.74,611.66 L407.06,611.66 L407.39,611.66 L407.71,611.67 L408.03,611.67 L408.36,611.67 L408.68,611.67 L409,611.67 L409.32,611.68 L409.65,611.68 L409.97,611.68 L410.29,611.68 L410.62,611.68 L410.94,611.68 L411.26,611.68 L411.59,611.68 L411.91,611.68 L412.23,611.68 L412.56,611.68 L412.88,611.68 L413.2,611.68 L413.52,611.69 L413.85,611.69 L414.17,611.69 L414.49,611.69 L414.82,611.69 L415.14,611.69 L415.46,611.69 L415.78,611.69 L416.11,611.69 L416.43,611.69 L416.75,611.69 L417.08,611.69 L417.4,611.69 L417.72,611.69 L418.05,611.69 L418.37,611.69 L418.69,611.69 L419.01,611.69 L419.34,611.69 L419.66,611.69 L419.98,611.69 L420.31,611.69 L420.63,611.69 L420.95,611.69 L421.28,611.69 L421.6,611.69 L421.92,611.69 L422.25,611.69 L422.57,611.69 L422.89,611.69 L423.21,611.69 L423.54,611.69 L423.86,611.69 L424.18,611.69 L424.51,611.69 L424.83,611.69 L425.15,611.69 L425.48,611.69 L425.8,611.69 L426.12,611.69 L426.44,611.69 L426.77,611.69 L427.09,611.69 L427.41,611.69 L427.74,611.69 L428.06,611.69 L428.38,611.69 L428.7,611.69 L429.03,611.69 L429.35,611.69 L429.67,611.69 L430,611.69 L430.32,611.69 L430.64,611.69 L430.97,611.69 L431.29,611.69 L431.61,611.69 L431.94,611.69 L432.26,611.69 L432.58,611.69 L432.9,611.69 L433.23,611.69 L433.55,611.69 L433.87,611.69 L434.2,611.69 L434.52,611.69 L434.84,611.69 L435.16,611.69 L435.49,611.69 L435.81,611.69 L436.13,611.69 L436.46,611.69 L436.78,611.69 L437.1,611.69 L437.43,611.69 L437.75,611.69 L438.07,611.69 L438.39,611.69 L438.72,611.69 L439.04,611.69 L439.36,611.69 L439.69,611.69 L440.01,611.69 L440.33,611.69 L440.66,611.69 L440.98,611.69 L441.3,611.69 L441.62,611.69 L441.95,611.69 L442.27,611.69 L442.59,611.69 L442.92,611.69 L443.24,611.69 L443.56,611.69 L443.89,611.69 L444.21,611.69 L444.53,611.69 L444.86,611.69 L445.18,611.69 L445.5,611.69 L445.82,611.69 L446.15,611.69 L446.47,611.69 L446.79,611.69 L447.12,611.69 L447.44,611.69 L447.76,611.69 L448.08,611.69 L448.41,611.69 L448.73,611.69 L449.05,611.69 L449.38,611.69 L449.7,611.69 L450.02,611.69 L450.35,611.69 L450.67,611.69 L450.99,611.69 L451.31,611.69 L451.64,611.69 L451.96,611.69 L452.28,611.69 L452.61,611.69 L452.93,611.69 L453.25,611.69 L453.58,611.69 L453.9,611.69 L454.22,611.69 L454.54,611.69 L454.87,611.69 L455.19,611.69 L455.51,611.69 L455.84,611.69 L456.16,611.69 L456.48,611.69 L456.81,611.69 L457.13,611.69 L457.45,611.69 L457.77,611.69 L458.1,611.69 L458.42,611.69 L458.74,611.69 L459.07,611.69 L459.39,611.69 L459.71,611.69 L460.04,611.69 L460.36,611.69 L460.68,611.69 L461,611.69 L461.33,611.69 L461.65,611.69 L461.97,611.69 L462.3,611.69 L462.62,611.69 L462.94,611.69 L463.27,611.69 L463.59,611.69 L463.91,611.69 L464.24,611.69 L464.56,611.69 L464.88,611.69 L465.2,611.69 L465.53,611.69 L465.85,611.69 L466.17,611.69 L466.5,611.69 L466.82,611.69 L467.14,611.69 L467.46,611.69 L467.79,611.69 L468.11,611.69 L468.43,611.69 L468.76,611.69 L469.08,611.69 L469.4,611.69 L469.73,611.69 L470.05,611.69 L470.37,611.69 L470.69,611.69 L471.02,611.69 L471.34,611.69 L471.66,611.69 L471.99,611.69 L472.31,611.69 L472.63,611.69 L472.96,611.69 L473.28,611.69 L473.6,611.69 L473.92,611.69 L474.25,611.69 L474.57,611.69 L474.89,611.69 L475.22,611.69 L475.54,611.69 L475.86,611.69 L476.19,611.69 L476.51,611.69 L476.83,611.69 L477.15,611.69 L477.48,611.69 L477.8,611.69 L478.12,611.69 L478.45,611.69 L478.77,611.69 L479.09,611.69 L479.42,611.69 L479.74,611.69 L480.06,611.69 L480.38,611.69 L480.71,611.69 L481.03,611.69 L481.35,611.69 L481.68,611.69 L482,611.69" stroke="#1B3D6B" stroke-width="1.25" fill="none"/>
<path d="M320.5,497.93 L320.82,498.08 L321.15,498.25 L321.47,498.42 L321.79,498.59 L322.12,498.78 L322.44,498.97 L322.76,499.17 L323.08,499.38 L323.41,499.6 L323.73,499.83 L324.05,500.06 L324.38,500.31 L324.7,500.57 L325.02,500.84 L325.35,501.12 L325.67,501.41 L325.99,501.72 L326.31,502.03 L326.64,502.36 L326.96,502.71 L327.28,503.06 L327.61,503.44 L327.93,503.82 L328.25,504.22 L328.57,504.64 L328.9,505.08 L329.22,505.53 L329.54,505.99 L329.87,506.48 L330.19,506.98 L330.51,507.5 L330.84,508.05 L331.16,508.61 L331.48,509.19 L331.81,509.79 L332.13,510.41 L332.45,511.06 L332.77,511.72 L333.1,512.41 L333.42,513.12 L333.74,513.85 L334.07,514.61 L334.39,515.39 L334.71,516.19 L335.03,517.02 L335.36,517.87 L335.68,518.74 L336,519.64 L336.33,520.57 L336.65,521.51 L336.97,522.48 L337.3,523.48 L337.62,524.5 L337.94,525.54 L338.26,526.61 L338.59,527.69 L338.91,528.8 L339.23,529.94 L339.56,531.09 L339.88,532.26 L340.2,533.46 L340.53,534.67 L340.85,535.9 L341.17,537.15 L341.5,538.41 L341.82,539.69 L342.14,540.98 L342.46,542.29 L342.79,543.61 L343.11,544.93 L343.43,546.27 L343.76,547.62 L344.08,548.97 L344.4,550.32 L344.73,551.68 L345.05,553.05 L345.37,554.41 L345.69,555.77 L346.02,557.13 L346.34,558.49 L346.66,559.84 L346.99,561.18 L347.31,562.52 L347.63,563.85 L347.95,565.17 L348.28,566.47 L348.6,567.77 L348.92,569.05 L349.25,570.31 L349.57,571.56 L349.89,572.79 L350.22,574 L350.54,575.19 L350.86,576.37 L351.19,577.52 L351.51,578.65 L351.83,579.76 L352.15,580.85 L352.48,581.92 L352.8,582.96 L353.12,583.98 L353.45,584.97 L353.77,585.94 L354.09,586.89 L354.42,587.81 L354.74,588.71 L355.06,589.59 L355.38,590.44 L355.71,591.27 L356.03,592.07 L356.35,592.85 L356.68,593.6 L357,594.34 L357.32,595.05 L357.64,595.73 L357.97,596.4 L358.29,597.04 L358.61,597.67 L358.94,598.27 L359.26,598.85 L359.58,599.41 L359.91,599.95 L360.23,600.47 L360.55,600.98 L360.88,601.46 L361.2,601.93 L361.52,602.38 L361.84,602.81 L362.17,603.23 L362.49,603.63 L362.81,604.02 L363.14,604.39 L363.46,604.75 L363.78,605.09 L364.11,605.42 L364.43,605.74 L364.75,606.04 L365.07,606.34 L365.4,606.62 L365.72,606.89 L366.04,607.14 L366.37,607.39 L366.69,607.63 L367.01,607.86 L367.33,608.08 L367.66,608.29 L367.98,608.49 L368.3,608.68 L368.63,608.86 L368.95,609.04 L369.27,609.21 L369.6,609.37 L369.92,609.53 L370.24,609.67 L370.56,609.82 L370.89,609.95 L371.21,610.08 L371.53,610.21 L371.86,610.33 L372.18,610.44 L372.5,610.55 L372.83,610.66 L373.15,610.76 L373.47,610.85 L373.8,610.94 L374.12,611.03 L374.44,611.11 L374.76,611.19 L375.09,611.27 L375.41,611.34 L375.73,611.41 L376.06,611.48 L376.38,611.55 L376.7,611.61 L377.02,611.66 L377.35,611.72 L377.67,611.77 L377.99,611.83 L378.32,611.87 L378.64,611.92 L378.96,611.97 L379.29,612.01 L379.61,612.05 L379.93,612.09 L380.25,612.13 L380.58,612.16 L380.9,612.19 L381.22,612.23 L381.55,612.26 L381.87,612.29 L382.19,612.32 L382.52,612.34 L382.84,612.37 L383.16,612.39 L383.49,612.42 L383.81,612.44 L384.13,612.46 L384.45,612.48 L384.78,612.5 L385.1,612.52 L385.42,612.54 L385.75,612.56 L386.07,612.57 L386.39,612.59 L386.71,612.6 L387.04,612.62 L387.36,612.63 L387.68,612.64 L388.01,612.66 L388.33,612.67 L388.65,612.68 L388.98,612.69 L389.3,612.7 L389.62,612.71 L389.94,612.72 L390.27,612.73 L390.59,612.74 L390.91,612.75 L391.24,612.75 L391.56,612.76 L391.88,612.77 L392.21,612.77 L392.53,612.78 L392.85,612.79 L393.18,612.79 L393.5,612.8 L393.82,612.8 L394.14,612.81 L394.47,612.81 L394.79,612.82 L395.11,612.82 L395.44,612.83 L395.76,612.83 L396.08,612.84 L396.4,612.84 L396.73,612.84 L397.05,612.85 L397.37,612.85 L397.7,612.85 L398.02,612.86 L398.34,612.86 L398.67,612.86 L398.99,612.86 L399.31,612.87 L399.63,612.87 L399.96,612.87 L400.28,612.87 L400.6,612.88 L400.93,612.88 L401.25,612.88 L401.57,612.88 L401.9,612.88 L402.22,612.89 L402.54,612.89 L402.87,612.89 L403.19,612.89 L403.51,612.89 L403.83,612.89 L404.16,612.89 L404.48,612.89 L404.8,612.9 L405.13,612.9 L405.45,612.9 L405.77,612.9 L406.09,612.9 L406.42,612.9 L406.74,612.9 L407.06,612.9 L407.39,612.9 L407.71,612.9 L408.03,612.9 L408.36,612.91 L408.68,612.91 L409,612.91 L409.32,612.91 L409.65,612.91 L409.97,612.91 L410.29,612.91 L410.62,612.91 L410.94,612.91 L411.26,612.91 L411.59,612.91 L411.91,612.91 L412.23,612.91 L412.56,612.91 L412.88,612.91 L413.2,612.91 L413.52,612.91 L413.85,612.91 L414.17,612.91 L414.49,612.91 L414.82,612.91 L415.14,612.91 L415.46,612.91 L415.78,612.91 L416.11,612.92 L416.43,612.92 L416.75,612.92 L417.08,612.92 L417.4,612.92 L417.72,612.92 L418.05,612.92 L418.37,612.92 L418.69,612.92 L419.01,612.92 L419.34,612.92 L419.66,612.92 L419.98,612.92 L420.31,612.92 L420.63,612.92 L420.95,612.92 L421.28,612.92 L421.6,612.92 L421.92,612.92 L422.25,612.92 L422.57,612.92 L422.89,612.92 L423.21,612.92 L423.54,612.92 L423.86,612.92 L424.18,612.92 L424.51,612.92 L424.83,612.92 L425.15,612.92 L425.48,612.92 L425.8,612.92 L426.12,612.92 L426.44,612.92 L426.77,612.92 L427.09,612.92 L427.41,612.92 L427.74,612.92 L428.06,612.92 L428.38,612.92 L428.7,612.92 L429.03,612.92 L429.35,612.92 L429.67,612.92 L430,612.92 L430.32,612.92 L430.64,612.92 L430.97,612.92 L431.29,612.92 L431.61,612.92 L431.94,612.92 L432.26,612.92 L432.58,612.92 L432.9,612.92 L433.23,612.92 L433.55,612.92 L433.87,612.92 L434.2,612.92 L434.52,612.92 L434.84,612.92 L435.16,612.92 L435.49,612.92 L435.81,612.92 L436.13,612.92 L436.46,612.92 L436.78,612.92 L437.1,612.92 L437.43,612.92 L437.75,612.92 L438.07,612.92 L438.39,612.92 L438.72,612.92 L439.04,612.92 L439.36,612.92 L439.69,612.92 L440.01,612.92 L440.33,612.92 L440.66,612.92 L440.98,612.92 L441.3,612.92 L441.62,612.92 L441.95,612.92 L442.27,612.92 L442.59,612.92 L442.92,612.92 L443.24,612.92 L443.56,612.92 L443.89,612.92 L444.21,612.92 L444.53,612.92 L444.86,612.92 L445.18,612.92 L445.5,612.92 L445.82,612.92 L446.15,612.92 L446.47,612.92 L446.79,612.92 L447.12,612.92 L447.44,612.92 L447.76,612.92 L448.08,612.92 L448.41,612.92 L448.73,612.92 L449.05,612.92 L449.38,612.92 L449.7,612.92 L450.02,612.92 L450.35,612.92 L450.67,612.92 L450.99,612.92 L451.31,612.92 L451.64,612.92 L451.96,612.92 L452.28,612.92 L452.61,612.92 L452.93,612.92 L453.25,612.92 L453.58,612.92 L453.9,612.92 L454.22,612.92 L454.54,612.92 L454.87,612.92 L455.19,612.92 L455.51,612.92 L455.84,612.92 L456.16,612.92 L456.48,612.92 L456.81,612.92 L457.13,612.92 L457.45,612.92 L457.77,612.92 L458.1,612.92 L458.42,612.92 L458.74,612.92 L459.07,612.92 L459.39,612.92 L459.71,612.92 L460.04,612.92 L460.36,612.92 L460.68,612.92 L461,612.92 L461.33,612.92 L461.65,612.92 L461.97,612.92 L462.3,612.92 L462.62,612.92 L462.94,612.92 L463.27,612.92 L463.59,612.92 L463.91,612.92 L464.24,612.92 L464.56,612.92 L464.88,612.92 L465.2,612.92 L465.53,612.92 L465.85,612.92 L466.17,612.92 L466.5,612.92 L466.82,612.92 L467.14,612.92 L467.46,612.92 L467.79,612.92 L468.11,612.92 L468.43,612.92 L468.76,612.92 L469.08,612.92 L469.4,612.92 L469.73,612.92 L470.05,612.92 L470.37,612.92 L470.69,612.92 L471.02,612.92 L471.34,612.92 L471.66,612.92 L471.99,612.92 L472.31,612.92 L472.63,612.92 L472.96,612.92 L473.28,612.92 L473.6,612.92 L473.92,612.92 L474.25,612.92 L474.57,612.92 L474.89,612.92 L475.22,612.92 L475.54,612.92 L475.86,612.92 L476.19,612.92 L476.51,612.92 L476.83,612.92 L477.15,612.92 L477.48,612.92 L477.8,612.92 L478.12,612.92 L478.45,612.92 L478.77,612.92 L479.09,612.92 L479.42,612.92 L479.74,612.92 L480.06,612.92 L480.38,612.92 L480.71,612.92 L481.03,612.92 L481.35,612.92 L481.68,612.92 L482,612.92" stroke="#F1921A" stroke-width="1.25" fill="none"/>
<path d="M320.5,498 V511 M318,498 H323 M318,511 H323" stroke="#1B3D6B" stroke-width="1.15" stroke-opacity="0.85" fill="none"/>
<path d="M352.8,476.9 V506.3 M350.3,476.9 H355.3 M350.3,506.3 H355.3" stroke="#1B3D6B" stroke-width="1.15" stroke-opacity="0.85" fill="none"/>
<path d="M320.5,491.7 V498.5 M318,491.7 H323 M318,498.5 H323" stroke="#F1921A" stroke-width="1.15" stroke-opacity="0.85" fill="none"/>
<path d="M320.5,501.52 L323.3,507.12 L317.7,507.12 Z" fill="#1B3D6B"/>
<path d="M352.8,489.42 L355.6,495.02 L350,495.02 Z" fill="#1B3D6B"/>
<path d="M385.1,568.92 L387.9,574.52 L382.3,574.52 Z" fill="#1B3D6B"/>
<path d="M417.4,608.32 L420.2,613.92 L414.6,613.92 Z" fill="#1B3D6B"/>
<path d="M449.7,608.32 L452.5,613.92 L446.9,613.92 Z" fill="#1B3D6B"/>
<path d="M482,608.32 L484.8,613.92 L479.2,613.92 Z" fill="#1B3D6B"/>
<rect x="317.6" y="492.2" width="5.8" height="5.8" fill="#F1921A"/>
<rect x="349.9" y="579.5" width="5.8" height="5.8" fill="#F1921A"/>
<rect x="382.2" y="609.5" width="5.8" height="5.8" fill="#F1921A"/>
<rect x="414.5" y="610.1" width="5.8" height="5.8" fill="#F1921A"/>
<rect x="446.8" y="609.6" width="5.8" height="5.8" fill="#F1921A"/>
<rect x="479.1" y="609.6" width="5.8" height="5.8" fill="#F1921A"/>
<line x1="438" y1="500.4" x2="451.8" y2="500.4" stroke="#F1921A" stroke-width="1.3"/>
<rect x="442" y="497.5" width="5.8" height="5.8" fill="#F1921A"/>
<text x="455.4" y="503.3" font-size="8.4" fill="#333" textLength="37" lengthAdjust="spacingAndGlyphs">CC-90009</text>
<line x1="438" y1="513.2" x2="451.8" y2="513.2" stroke="#1B3D6B" stroke-width="1.3"/>
<path d="M444.9,510.12 L447.7,515.72 L442.1,515.72 Z" fill="#1B3D6B"/>
<text x="455.4" y="516.1" font-size="8.4" fill="#333" textLength="26.4" lengthAdjust="spacingAndGlyphs">SJ6986</text></g>
</svg>
</body></html>
